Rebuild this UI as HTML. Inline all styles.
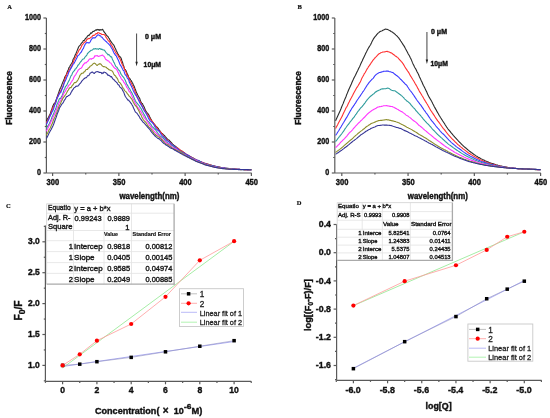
<!DOCTYPE html>
<html><head><meta charset="utf-8"><style>
html,body{margin:0;padding:0;background:#fff;}
svg{display:block;will-change:transform;font-family:"Liberation Sans", sans-serif;}
</style></head><body>
<svg width="550" height="418" viewBox="0 0 550 418">
<rect width="550" height="418" fill="#fff"/>
<text x="7.2" y="8.9" font-family="'Liberation Serif', serif" font-size="6.5" font-weight="bold" fill="#111" stroke="#111" stroke-width="0.2">A</text>
<text x="297.6" y="8.6" font-family="'Liberation Serif', serif" font-size="6.5" font-weight="bold" fill="#111" stroke="#111" stroke-width="0.2">B</text>
<text x="6.0" y="208.0" font-family="'Liberation Serif', serif" font-size="6.5" font-weight="bold" fill="#111" stroke="#111" stroke-width="0.2">C</text>
<text x="296.8" y="204.8" font-family="'Liberation Serif', serif" font-size="6.5" font-weight="bold" fill="#111" stroke="#111" stroke-width="0.2">D</text>
<line x1="46.40" y1="173.00" x2="251.69" y2="173.00" stroke="#5a5a5a" stroke-width="1.2" />
<line x1="46.40" y1="173.00" x2="46.40" y2="18.00" stroke="#5a5a5a" stroke-width="1.2" />
<line x1="43.40" y1="173.00" x2="46.40" y2="173.00" stroke="#5a5a5a" stroke-width="1.2" />
<text x="40.90" y="175.10" font-size="8.6" font-weight="bold" text-anchor="end" fill="#111" textLength="4.0" lengthAdjust="spacingAndGlyphs" stroke="#111" stroke-width="0.4">0</text>
<line x1="43.40" y1="142.00" x2="46.40" y2="142.00" stroke="#5a5a5a" stroke-width="1.2" />
<text x="40.90" y="144.10" font-size="8.6" font-weight="bold" text-anchor="end" fill="#111" textLength="12.0" lengthAdjust="spacingAndGlyphs" stroke="#111" stroke-width="0.4">200</text>
<line x1="43.40" y1="111.00" x2="46.40" y2="111.00" stroke="#5a5a5a" stroke-width="1.2" />
<text x="40.90" y="113.10" font-size="8.6" font-weight="bold" text-anchor="end" fill="#111" textLength="12.0" lengthAdjust="spacingAndGlyphs" stroke="#111" stroke-width="0.4">400</text>
<line x1="43.40" y1="80.00" x2="46.40" y2="80.00" stroke="#5a5a5a" stroke-width="1.2" />
<text x="40.90" y="82.10" font-size="8.6" font-weight="bold" text-anchor="end" fill="#111" textLength="12.0" lengthAdjust="spacingAndGlyphs" stroke="#111" stroke-width="0.4">600</text>
<line x1="43.40" y1="49.00" x2="46.40" y2="49.00" stroke="#5a5a5a" stroke-width="1.2" />
<text x="40.90" y="51.10" font-size="8.6" font-weight="bold" text-anchor="end" fill="#111" textLength="12.0" lengthAdjust="spacingAndGlyphs" stroke="#111" stroke-width="0.4">800</text>
<line x1="43.40" y1="18.00" x2="46.40" y2="18.00" stroke="#5a5a5a" stroke-width="1.2" />
<text x="40.90" y="20.10" font-size="8.6" font-weight="bold" text-anchor="end" fill="#111" textLength="16.0" lengthAdjust="spacingAndGlyphs" stroke="#111" stroke-width="0.4">1000</text>
<line x1="44.80" y1="157.50" x2="46.40" y2="157.50" stroke="#5a5a5a" stroke-width="1.2" />
<line x1="44.80" y1="126.50" x2="46.40" y2="126.50" stroke="#5a5a5a" stroke-width="1.2" />
<line x1="44.80" y1="95.50" x2="46.40" y2="95.50" stroke="#5a5a5a" stroke-width="1.2" />
<line x1="44.80" y1="64.50" x2="46.40" y2="64.50" stroke="#5a5a5a" stroke-width="1.2" />
<line x1="44.80" y1="33.50" x2="46.40" y2="33.50" stroke="#5a5a5a" stroke-width="1.2" />
<line x1="52.60" y1="173.00" x2="52.60" y2="176.00" stroke="#5a5a5a" stroke-width="1.2" />
<text x="52.90" y="185.00" font-size="8.6" font-weight="bold" text-anchor="middle" fill="#111" textLength="12.6" lengthAdjust="spacingAndGlyphs" stroke="#111" stroke-width="0.4">300</text>
<line x1="118.87" y1="173.00" x2="118.87" y2="176.00" stroke="#5a5a5a" stroke-width="1.2" />
<text x="119.17" y="185.00" font-size="8.6" font-weight="bold" text-anchor="middle" fill="#111" textLength="12.6" lengthAdjust="spacingAndGlyphs" stroke="#111" stroke-width="0.4">350</text>
<line x1="185.13" y1="173.00" x2="185.13" y2="176.00" stroke="#5a5a5a" stroke-width="1.2" />
<text x="185.43" y="185.00" font-size="8.6" font-weight="bold" text-anchor="middle" fill="#111" textLength="12.6" lengthAdjust="spacingAndGlyphs" stroke="#111" stroke-width="0.4">400</text>
<line x1="251.39" y1="173.00" x2="251.39" y2="176.00" stroke="#5a5a5a" stroke-width="1.2" />
<text x="251.69" y="185.00" font-size="8.6" font-weight="bold" text-anchor="middle" fill="#111" textLength="12.6" lengthAdjust="spacingAndGlyphs" stroke="#111" stroke-width="0.4">450</text>
<line x1="85.73" y1="173.00" x2="85.73" y2="174.60" stroke="#5a5a5a" stroke-width="1.2" />
<line x1="152.00" y1="173.00" x2="152.00" y2="174.60" stroke="#5a5a5a" stroke-width="1.2" />
<line x1="218.26" y1="173.00" x2="218.26" y2="174.60" stroke="#5a5a5a" stroke-width="1.2" />
<text x="149.40" y="198.50" font-size="8.7" font-weight="bold" text-anchor="middle" fill="#111" textLength="60" lengthAdjust="spacingAndGlyphs" stroke="#111" stroke-width="0.4">wavelength(nm)</text>
<text transform="translate(12.100000000000001,98.0) rotate(-90)" x="0" y="0" font-size="8.6" font-weight="bold" text-anchor="middle" fill="#111" stroke="#111" stroke-width="0.4" textLength="53.6" lengthAdjust="spacingAndGlyphs">Fluorescence</text>
<polyline points="46.37,121.00 47.06,119.72 47.74,118.39 48.43,117.51 49.11,115.92 49.80,114.61 50.49,113.20 51.17,110.65 51.86,108.97 52.54,106.92 53.23,105.34 53.91,103.68 54.60,103.43 55.29,102.03 55.97,100.15 56.66,98.52 57.34,96.33 58.03,94.38 58.71,92.58 59.40,90.55 60.09,88.61 60.77,87.45 61.46,85.78 62.14,83.93 62.83,82.12 63.51,80.74 64.20,78.99 64.88,76.92 65.57,75.77 66.26,74.90 66.94,72.87 67.63,70.97 68.31,69.67 69.00,67.54 69.68,66.85 70.37,65.24 71.06,64.23 71.74,63.32 72.43,61.96 73.11,59.26 73.80,58.32 74.48,56.93 75.17,54.95 75.86,53.70 76.54,52.11 77.23,50.39 77.91,48.68 78.60,47.06 79.28,45.91 79.97,45.55 80.66,44.47 81.34,43.24 82.03,42.65 82.71,41.83 83.40,40.45 84.08,40.58 84.77,39.65 85.46,38.55 86.14,38.04 86.83,37.32 87.51,36.06 88.20,35.35 88.88,35.57 89.57,34.71 90.26,33.92 90.94,32.66 91.63,33.19 92.31,32.21 93.00,31.38 93.68,31.48 94.37,31.01 95.06,30.41 95.74,29.89 96.43,30.19 97.11,29.38 97.80,29.87 98.48,29.57 99.17,30.34 99.86,29.51 100.54,29.91 101.23,29.88 101.91,29.67 102.60,29.34 103.28,30.59 103.97,31.65 104.66,32.78 105.34,33.36 106.03,34.71 106.71,35.49 107.40,36.18 108.08,36.74 108.77,37.99 109.46,38.94 110.14,40.40 110.83,41.41 111.51,42.22 112.20,43.34 112.88,44.06 113.57,44.82 114.26,45.99 114.94,47.79 115.63,49.08 116.31,50.76 117.00,51.95 117.68,53.45 118.37,54.55 119.06,56.14 119.74,56.38 120.43,57.31 121.11,58.16 121.80,60.48 122.48,62.10 123.17,64.63 123.86,66.40 124.54,69.16 125.23,69.49 125.91,70.46 126.60,72.16 127.28,74.14 127.97,75.09 128.65,76.94 129.34,78.55 130.03,78.84 130.71,80.03 131.40,80.94 132.08,82.35 132.77,83.40 133.45,85.29 134.14,86.18 134.83,88.24 135.51,89.77 136.20,92.07 136.88,93.19 137.57,94.82 138.25,95.92 138.94,97.37 139.63,98.29 140.31,100.35 141.00,102.17 141.68,103.21 142.37,103.59 143.05,105.09 143.74,106.30 144.43,107.61 145.11,109.35 145.80,111.09 146.48,111.96 147.17,112.97 147.85,113.71 148.54,114.47 149.23,115.69 149.91,117.38 150.60,118.57 151.28,119.67 151.97,120.92 152.65,122.07 153.34,122.90 154.03,123.85 154.71,124.65 155.40,125.51 156.08,126.37 156.77,126.95 157.45,127.66 158.14,128.39 158.83,129.59 159.51,130.25 160.20,131.34 160.88,132.25 161.57,133.21 162.25,133.44 162.94,134.19 163.63,134.85 164.31,135.37 165.00,136.30 165.68,137.22 166.37,137.97 167.05,138.78 167.74,139.38 168.43,139.86 169.11,140.20 169.80,140.97 170.48,141.59 171.17,142.50 171.85,143.15 172.54,144.12 173.23,144.65 173.91,145.19 174.60,145.58 175.28,146.31 175.97,146.67 176.65,147.33 177.34,147.97 178.03,148.75 178.71,149.32 179.40,149.91 180.08,150.23 180.77,150.60 181.45,150.94 182.14,151.15 182.83,151.61 183.51,152.15 184.20,152.64 184.88,153.29 185.57,153.80 186.25,154.39 186.94,154.77 187.63,155.16 188.31,155.34 189.00,155.81 189.68,156.13 190.37,156.54 191.05,156.96 191.74,157.42 192.42,157.77 193.11,158.08 193.80,158.47 194.48,158.83 195.17,159.17 195.85,159.63 196.54,159.95 197.22,160.32 197.91,160.52 198.60,160.74 199.28,161.03 199.97,161.31 200.65,161.54 201.34,161.93 202.02,162.24 202.71,162.43 203.40,162.78 204.08,163.04 204.77,163.25 205.45,163.51 206.14,163.78 206.82,163.91 207.51,164.09 208.20,164.35 208.88,164.59 209.57,164.76 210.25,165.00 210.94,165.16 211.62,165.31 212.31,165.51 213.00,165.71 213.68,165.87 214.37,166.02 215.05,166.20 215.74,166.32 216.42,166.44 217.11,166.59 217.80,166.74 218.48,166.89 219.17,167.01 219.85,167.15 220.54,167.26 221.22,167.47 221.91,167.53 222.60,167.67 223.28,167.78 223.97,167.92 224.65,168.01 225.34,168.13 226.02,168.20 226.71,168.27 227.40,168.31 228.08,168.37 228.77,168.46 229.45,168.54 230.14,168.61 230.82,168.71 231.51,168.78 232.20,168.82 232.88,168.89 233.57,168.96 234.25,169.00 234.94,169.04 235.62,169.11 236.31,169.17 237.00,169.21 237.68,169.24 238.37,169.35 239.05,169.38 239.74,169.39 240.42,169.44 241.11,169.47 241.80,169.46 242.48,169.50 243.17,169.55 243.85,169.59 244.54,169.65 245.22,169.65 245.91,169.68 246.60,169.67 247.28,169.67 247.97,169.66 248.65,169.71 249.34,169.75 250.02,169.80 250.71,169.82 251.39,169.85" fill="none" stroke="#2b2b2b" stroke-width="1.1" stroke-linejoin="round" />
<polyline points="46.37,123.11 47.06,121.64 47.74,120.39 48.43,119.42 49.11,117.87 49.80,115.84 50.49,114.57 51.17,112.64 51.86,110.21 52.54,108.43 53.23,107.41 53.91,106.07 54.60,104.76 55.29,103.35 55.97,101.66 56.66,99.48 57.34,97.55 58.03,95.78 58.71,94.60 59.40,93.15 60.09,92.14 60.77,90.88 61.46,89.51 62.14,88.09 62.83,86.68 63.51,84.37 64.20,82.25 64.88,79.47 65.57,77.18 66.26,75.49 66.94,73.90 67.63,72.20 68.31,71.92 69.00,70.35 69.68,68.91 70.37,68.76 71.06,67.15 71.74,65.69 72.43,64.14 73.11,62.70 73.80,60.67 74.48,59.05 75.17,57.88 75.86,57.02 76.54,55.01 77.23,53.31 77.91,52.65 78.60,51.05 79.28,49.67 79.97,49.32 80.66,48.06 81.34,46.77 82.03,44.97 82.71,44.39 83.40,43.48 84.08,42.53 84.77,41.99 85.46,41.86 86.14,40.91 86.83,39.43 87.51,39.20 88.20,38.42 88.88,38.77 89.57,38.53 90.26,37.85 90.94,37.34 91.63,37.08 92.31,36.18 93.00,35.28 93.68,35.40 94.37,35.27 95.06,34.53 95.74,33.80 96.43,33.57 97.11,33.74 97.80,32.66 98.48,32.74 99.17,32.91 99.86,33.46 100.54,33.49 101.23,34.02 101.91,34.56 102.60,34.50 103.28,34.55 103.97,34.50 104.66,35.08 105.34,35.63 106.03,37.36 106.71,38.22 107.40,39.23 108.08,40.32 108.77,41.03 109.46,41.51 110.14,42.77 110.83,44.43 111.51,45.12 112.20,46.40 112.88,47.57 113.57,49.10 114.26,50.05 114.94,51.26 115.63,52.42 116.31,53.78 117.00,54.12 117.68,54.89 118.37,56.37 119.06,57.60 119.74,58.29 120.43,59.96 121.11,61.55 121.80,63.54 122.48,64.67 123.17,66.39 123.86,67.27 124.54,69.65 125.23,70.54 125.91,72.14 126.60,73.75 127.28,75.72 127.97,76.17 128.65,77.64 129.34,79.59 130.03,80.94 130.71,82.16 131.40,83.40 132.08,84.97 132.77,86.17 133.45,87.45 134.14,88.84 134.83,91.04 135.51,92.91 136.20,94.26 136.88,96.07 137.57,97.97 138.25,98.90 138.94,99.61 139.63,101.30 140.31,101.98 141.00,103.63 141.68,104.75 142.37,106.62 143.05,107.90 143.74,109.15 144.43,109.95 145.11,111.50 145.80,112.35 146.48,113.02 147.17,114.34 147.85,115.36 148.54,115.99 149.23,117.14 149.91,118.44 150.60,119.60 151.28,120.35 151.97,121.38 152.65,121.93 153.34,122.82 154.03,123.71 154.71,124.73 155.40,125.96 156.08,126.97 156.77,127.71 157.45,128.70 158.14,129.75 158.83,130.54 159.51,131.20 160.20,131.68 160.88,132.38 161.57,133.15 162.25,134.30 162.94,135.32 163.63,136.48 164.31,137.36 165.00,137.93 165.68,138.51 166.37,139.25 167.05,139.90 167.74,140.57 168.43,141.20 169.11,141.46 169.80,142.25 170.48,143.07 171.17,143.42 171.85,144.12 172.54,144.99 173.23,145.42 173.91,145.81 174.60,146.45 175.28,146.89 175.97,147.24 176.65,147.53 177.34,147.89 178.03,148.32 178.71,148.80 179.40,149.21 180.08,149.82 180.77,150.56 181.45,151.02 182.14,151.58 182.83,152.01 183.51,152.52 184.20,152.81 184.88,153.29 185.57,153.59 186.25,154.14 186.94,154.59 187.63,155.02 188.31,155.48 189.00,155.99 189.68,156.39 190.37,156.73 191.05,156.99 191.74,157.36 192.42,157.74 193.11,158.11 193.80,158.43 194.48,158.98 195.17,159.33 195.85,159.66 196.54,159.94 197.22,160.30 197.91,160.57 198.60,160.88 199.28,161.15 199.97,161.40 200.65,161.66 201.34,161.91 202.02,162.12 202.71,162.46 203.40,162.81 204.08,163.09 204.77,163.33 205.45,163.59 206.14,163.84 206.82,164.01 207.51,164.16 208.20,164.40 208.88,164.60 209.57,164.75 210.25,164.97 210.94,165.28 211.62,165.40 212.31,165.62 213.00,165.76 213.68,165.96 214.37,166.09 215.05,166.31 215.74,166.43 216.42,166.64 217.11,166.80 217.80,166.94 218.48,167.12 219.17,167.24 219.85,167.33 220.54,167.45 221.22,167.52 221.91,167.62 222.60,167.76 223.28,167.84 223.97,167.92 224.65,168.09 225.34,168.24 226.02,168.35 226.71,168.45 227.40,168.56 228.08,168.59 228.77,168.59 229.45,168.66 230.14,168.74 230.82,168.79 231.51,168.84 232.20,168.90 232.88,168.95 233.57,169.00 234.25,169.08 234.94,169.11 235.62,169.12 236.31,169.17 237.00,169.26 237.68,169.30 238.37,169.35 239.05,169.42 239.74,169.42 240.42,169.43 241.11,169.47 241.80,169.48 242.48,169.55 243.17,169.57 243.85,169.59 244.54,169.58 245.22,169.62 245.91,169.60 246.60,169.63 247.28,169.66 247.97,169.69 248.65,169.72 249.34,169.74 250.02,169.75 250.71,169.74 251.39,169.76" fill="none" stroke="#ff3030" stroke-width="1.1" stroke-linejoin="round" />
<polyline points="46.37,124.45 47.06,123.15 47.74,121.58 48.43,120.29 49.11,118.39 49.80,116.66 50.49,115.14 51.17,114.16 51.86,112.35 52.54,110.92 53.23,109.93 53.91,107.95 54.60,105.46 55.29,103.80 55.97,102.22 56.66,99.23 57.34,97.53 58.03,96.70 58.71,95.15 59.40,93.72 60.09,92.98 60.77,92.59 61.46,90.40 62.14,89.00 62.83,87.29 63.51,85.70 64.20,83.01 64.88,81.82 65.57,80.34 66.26,78.70 66.94,76.69 67.63,75.63 68.31,73.61 69.00,71.81 69.68,70.76 70.37,69.32 71.06,68.11 71.74,66.87 72.43,65.79 73.11,64.12 73.80,63.77 74.48,62.48 75.17,61.19 75.86,59.71 76.54,58.63 77.23,57.15 77.91,55.53 78.60,55.23 79.28,54.56 79.97,53.54 80.66,52.62 81.34,51.99 82.03,50.53 82.71,49.23 83.40,48.33 84.08,46.57 84.77,45.13 85.46,43.86 86.14,43.05 86.83,42.41 87.51,42.79 88.20,42.60 88.88,43.13 89.57,42.74 90.26,41.75 90.94,40.18 91.63,39.26 92.31,38.41 93.00,37.66 93.68,37.85 94.37,37.83 95.06,37.94 95.74,37.14 96.43,36.25 97.11,35.54 97.80,34.95 98.48,34.84 99.17,35.30 99.86,35.83 100.54,35.71 101.23,36.93 101.91,37.24 102.60,37.97 103.28,38.91 103.97,39.68 104.66,40.05 105.34,40.88 106.03,41.53 106.71,42.05 107.40,42.86 108.08,43.46 108.77,44.06 109.46,44.95 110.14,45.44 110.83,46.75 111.51,48.07 112.20,48.99 112.88,50.42 113.57,52.20 114.26,53.40 114.94,54.42 115.63,55.42 116.31,55.75 117.00,57.61 117.68,58.95 118.37,60.29 119.06,62.00 119.74,63.91 120.43,65.17 121.11,66.18 121.80,67.47 122.48,68.87 123.17,70.38 123.86,70.55 124.54,73.11 125.23,74.73 125.91,75.37 126.60,76.21 127.28,78.13 127.97,78.92 128.65,79.71 129.34,82.27 130.03,83.51 130.71,84.93 131.40,86.27 132.08,87.81 132.77,89.23 133.45,90.93 134.14,92.35 134.83,93.48 135.51,94.97 136.20,95.50 136.88,96.70 137.57,98.19 138.25,99.54 138.94,101.10 139.63,102.42 140.31,103.66 141.00,104.62 141.68,105.73 142.37,107.10 143.05,108.30 143.74,109.73 144.43,111.01 145.11,111.74 145.80,112.95 146.48,114.33 147.17,115.58 147.85,116.80 148.54,118.61 149.23,119.46 149.91,120.60 150.60,121.20 151.28,121.72 151.97,122.30 152.65,123.05 153.34,123.91 154.03,124.94 154.71,126.37 155.40,127.70 156.08,128.69 156.77,129.22 157.45,129.92 158.14,130.70 158.83,130.88 159.51,131.78 160.20,132.98 160.88,134.05 161.57,134.88 162.25,135.94 162.94,136.25 163.63,136.90 164.31,137.57 165.00,138.20 165.68,138.87 166.37,140.09 167.05,140.68 167.74,141.05 168.43,141.55 169.11,142.04 169.80,142.59 170.48,143.43 171.17,143.93 171.85,144.41 172.54,145.24 173.23,145.60 173.91,145.94 174.60,146.56 175.28,147.20 175.97,147.60 176.65,148.11 177.34,148.60 178.03,149.16 178.71,149.86 179.40,150.59 180.08,151.16 180.77,151.79 181.45,152.20 182.14,152.40 182.83,152.54 183.51,152.94 184.20,153.22 184.88,153.57 185.57,154.11 186.25,154.47 186.94,154.80 187.63,155.19 188.31,155.57 189.00,155.96 189.68,156.35 190.37,156.84 191.05,157.29 191.74,157.83 192.42,158.10 193.11,158.58 193.80,158.86 194.48,159.22 195.17,159.42 195.85,159.66 196.54,159.92 197.22,160.15 197.91,160.37 198.60,160.62 199.28,161.02 199.97,161.41 200.65,161.71 201.34,162.02 202.02,162.45 202.71,162.75 203.40,163.01 204.08,163.34 204.77,163.62 205.45,163.75 206.14,163.93 206.82,164.16 207.51,164.44 208.20,164.63 208.88,164.97 209.57,165.20 210.25,165.34 210.94,165.50 211.62,165.68 212.31,165.79 213.00,165.91 213.68,166.04 214.37,166.18 215.05,166.30 215.74,166.49 216.42,166.67 217.11,166.89 217.80,167.01 218.48,167.20 219.17,167.33 219.85,167.46 220.54,167.55 221.22,167.71 221.91,167.81 222.60,167.89 223.28,167.98 223.97,168.11 224.65,168.17 225.34,168.26 226.02,168.32 226.71,168.39 227.40,168.48 228.08,168.60 228.77,168.67 229.45,168.74 230.14,168.81 230.82,168.84 231.51,168.86 232.20,168.95 232.88,169.01 233.57,169.07 234.25,169.12 234.94,169.18 235.62,169.20 236.31,169.27 237.00,169.29 237.68,169.35 238.37,169.38 239.05,169.42 239.74,169.42 240.42,169.47 241.11,169.50 241.80,169.54 242.48,169.57 243.17,169.59 243.85,169.65 244.54,169.67 245.22,169.66 245.91,169.64 246.60,169.69 247.28,169.66 247.97,169.65 248.65,169.66 249.34,169.70 250.02,169.68 250.71,169.70 251.39,169.73" fill="none" stroke="#3a3aff" stroke-width="1.1" stroke-linejoin="round" />
<polyline points="46.37,128.78 47.06,127.25 47.74,126.15 48.43,125.13 49.11,123.95 49.80,122.46 50.49,121.12 51.17,119.60 51.86,117.32 52.54,115.89 53.23,114.40 53.91,112.88 54.60,110.73 55.29,109.77 55.97,108.00 56.66,105.42 57.34,103.55 58.03,102.17 58.71,100.46 59.40,98.81 60.09,98.38 60.77,98.14 61.46,96.85 62.14,95.51 62.83,93.61 63.51,91.58 64.20,89.44 64.88,88.21 65.57,86.30 66.26,85.89 66.94,84.88 67.63,83.34 68.31,81.70 69.00,80.66 69.68,79.16 70.37,77.36 71.06,75.61 71.74,75.09 72.43,73.12 73.11,72.01 73.80,70.94 74.48,70.71 75.17,68.95 75.86,68.71 76.54,67.66 77.23,66.76 77.91,65.26 78.60,64.71 79.28,63.84 79.97,62.66 80.66,61.77 81.34,61.18 82.03,60.02 82.71,59.16 83.40,58.95 84.08,58.82 84.77,57.38 85.46,56.67 86.14,55.86 86.83,55.05 87.51,53.51 88.20,52.83 88.88,52.19 89.57,51.50 90.26,50.99 90.94,50.36 91.63,50.21 92.31,50.03 93.00,49.42 93.68,48.72 94.37,48.91 95.06,48.87 95.74,48.61 96.43,49.08 97.11,48.88 97.80,48.98 98.48,49.41 99.17,48.51 99.86,48.48 100.54,49.02 101.23,49.43 101.91,49.11 102.60,49.76 103.28,49.95 103.97,49.86 104.66,50.59 105.34,51.46 106.03,52.52 106.71,53.22 107.40,54.01 108.08,54.90 108.77,54.44 109.46,55.37 110.14,56.08 110.83,56.83 111.51,56.74 112.20,58.67 112.88,60.35 113.57,61.84 114.26,62.88 114.94,64.54 115.63,66.06 116.31,66.95 117.00,67.26 117.68,68.47 118.37,69.60 119.06,70.44 119.74,70.83 120.43,72.82 121.11,74.29 121.80,75.10 122.48,76.08 123.17,76.83 123.86,77.67 124.54,78.98 125.23,80.18 125.91,81.85 126.60,83.99 127.28,84.87 127.97,86.12 128.65,87.49 129.34,88.32 130.03,89.55 130.71,91.00 131.40,91.99 132.08,93.34 132.77,94.69 133.45,95.84 134.14,98.07 134.83,99.55 135.51,101.05 136.20,102.12 136.88,103.01 137.57,103.70 138.25,104.81 138.94,105.33 139.63,106.45 140.31,107.61 141.00,108.51 141.68,109.77 142.37,111.33 143.05,112.61 143.74,113.85 144.43,114.98 145.11,116.27 145.80,117.72 146.48,119.31 147.17,120.40 147.85,121.15 148.54,121.59 149.23,122.41 149.91,123.34 150.60,124.01 151.28,125.13 151.97,126.57 152.65,127.03 153.34,127.55 154.03,128.30 154.71,129.17 155.40,129.57 156.08,130.53 156.77,131.54 157.45,132.60 158.14,133.54 158.83,134.29 159.51,135.24 160.20,136.04 160.88,136.58 161.57,136.97 162.25,137.54 162.94,137.88 163.63,138.52 164.31,139.37 165.00,140.24 165.68,141.06 166.37,142.11 167.05,142.47 167.74,142.90 168.43,143.51 169.11,144.04 169.80,144.15 170.48,144.68 171.17,145.11 171.85,145.39 172.54,145.87 173.23,146.47 173.91,147.02 174.60,147.49 175.28,148.14 175.97,148.74 176.65,149.17 177.34,149.67 178.03,150.21 178.71,150.50 179.40,150.87 180.08,151.37 180.77,151.65 181.45,152.05 182.14,152.71 182.83,153.25 183.51,153.56 184.20,154.01 184.88,154.65 185.57,155.03 186.25,155.31 186.94,155.88 187.63,156.25 188.31,156.46 189.00,156.70 189.68,157.15 190.37,157.40 191.05,157.66 191.74,158.08 192.42,158.38 193.11,158.59 193.80,158.94 194.48,159.40 195.17,159.75 195.85,160.20 196.54,160.53 197.22,160.83 197.91,161.06 198.60,161.25 199.28,161.46 199.97,161.82 200.65,162.21 201.34,162.53 202.02,162.83 202.71,163.13 203.40,163.43 204.08,163.65 204.77,163.96 205.45,164.21 206.14,164.49 206.82,164.66 207.51,164.84 208.20,164.99 208.88,165.16 209.57,165.36 210.25,165.62 210.94,165.79 211.62,165.93 212.31,166.11 213.00,166.24 213.68,166.32 214.37,166.51 215.05,166.74 215.74,166.94 216.42,167.08 217.11,167.24 217.80,167.33 218.48,167.46 219.17,167.58 219.85,167.68 220.54,167.79 221.22,167.96 221.91,168.06 222.60,168.16 223.28,168.25 223.97,168.31 224.65,168.36 225.34,168.43 226.02,168.47 226.71,168.58 227.40,168.67 228.08,168.76 228.77,168.81 229.45,168.86 230.14,168.92 230.82,168.95 231.51,168.96 232.20,169.03 232.88,169.11 233.57,169.14 234.25,169.18 234.94,169.26 235.62,169.28 236.31,169.30 237.00,169.34 237.68,169.38 238.37,169.40 239.05,169.45 239.74,169.48 240.42,169.52 241.11,169.54 241.80,169.56 242.48,169.57 243.17,169.58 243.85,169.60 244.54,169.61 245.22,169.67 245.91,169.70 246.60,169.72 247.28,169.75 247.97,169.75 248.65,169.72 249.34,169.70 250.02,169.66 250.71,169.67 251.39,169.68" fill="none" stroke="#2f9c9c" stroke-width="1.1" stroke-linejoin="round" />
<polyline points="46.37,131.22 47.06,129.68 47.74,128.42 48.43,127.23 49.11,125.56 49.80,124.42 50.49,122.99 51.17,121.30 51.86,119.67 52.54,118.45 53.23,116.83 53.91,115.58 54.60,113.89 55.29,112.91 55.97,111.11 56.66,109.23 57.34,107.32 58.03,105.90 58.71,103.60 59.40,102.36 60.09,101.45 60.77,100.22 61.46,98.77 62.14,97.17 62.83,95.77 63.51,93.75 64.20,92.83 64.88,91.75 65.57,90.83 66.26,88.94 66.94,88.38 67.63,87.49 68.31,86.01 69.00,84.97 69.68,84.73 70.37,83.88 71.06,82.39 71.74,81.53 72.43,80.32 73.11,79.49 73.80,77.38 74.48,76.19 75.17,75.40 75.86,74.45 76.54,72.95 77.23,72.00 77.91,70.67 78.60,69.75 79.28,69.21 79.97,68.52 80.66,68.56 81.34,67.85 82.03,67.10 82.71,65.58 83.40,64.64 84.08,63.80 84.77,62.96 85.46,62.71 86.14,62.91 86.83,62.02 87.51,61.34 88.20,61.09 88.88,59.71 89.57,59.07 90.26,58.86 90.94,58.88 91.63,59.11 92.31,58.43 93.00,58.21 93.68,58.09 94.37,56.87 95.06,55.63 95.74,56.06 96.43,55.78 97.11,55.45 97.80,56.21 98.48,56.37 99.17,56.16 99.86,56.00 100.54,55.83 101.23,55.42 101.91,55.18 102.60,54.97 103.28,55.91 103.97,56.22 104.66,57.26 105.34,58.84 106.03,59.62 106.71,59.81 107.40,60.82 108.08,60.69 108.77,61.10 109.46,62.36 110.14,62.75 110.83,63.00 111.51,64.00 112.20,65.15 112.88,65.94 113.57,67.01 114.26,67.69 114.94,68.51 115.63,68.65 116.31,69.01 117.00,70.08 117.68,71.61 118.37,72.80 119.06,74.51 119.74,76.01 120.43,76.81 121.11,78.46 121.80,79.48 122.48,80.02 123.17,80.80 123.86,82.43 124.54,83.19 125.23,84.14 125.91,85.32 126.60,87.14 127.28,87.99 127.97,88.74 128.65,90.48 129.34,91.83 130.03,91.88 130.71,93.18 131.40,94.93 132.08,96.47 132.77,98.03 133.45,99.60 134.14,100.83 134.83,102.37 135.51,103.53 136.20,104.50 136.88,105.89 137.57,107.23 138.25,107.82 138.94,108.84 139.63,109.88 140.31,111.07 141.00,111.82 141.68,113.24 142.37,114.24 143.05,115.28 143.74,116.80 144.43,117.95 145.11,118.74 145.80,119.46 146.48,120.59 147.17,121.32 147.85,122.30 148.54,123.53 149.23,124.73 149.91,125.54 150.60,126.34 151.28,127.46 151.97,128.24 152.65,129.46 153.34,130.20 154.03,131.15 154.71,131.70 155.40,132.61 156.08,133.00 156.77,133.81 157.45,134.27 158.14,135.26 158.83,135.63 159.51,136.33 160.20,137.20 160.88,137.93 161.57,138.40 162.25,139.20 162.94,139.89 163.63,140.35 164.31,141.00 165.00,141.55 165.68,142.21 166.37,142.74 167.05,143.25 167.74,143.62 168.43,144.13 169.11,144.34 169.80,144.79 170.48,145.48 171.17,146.05 171.85,146.65 172.54,147.24 173.23,147.59 173.91,147.96 174.60,148.50 175.28,148.58 175.97,149.05 176.65,149.58 177.34,149.91 178.03,150.35 178.71,151.03 179.40,151.44 180.08,152.11 180.77,152.46 181.45,152.96 182.14,153.45 182.83,153.83 183.51,154.01 184.20,154.63 184.88,154.91 185.57,155.30 186.25,155.77 186.94,156.26 187.63,156.60 188.31,156.95 189.00,157.22 189.68,157.51 190.37,157.70 191.05,158.00 191.74,158.42 192.42,158.79 193.11,159.05 193.80,159.44 194.48,159.75 195.17,160.05 195.85,160.34 196.54,160.72 197.22,161.04 197.91,161.37 198.60,161.70 199.28,162.05 199.97,162.33 200.65,162.57 201.34,162.80 202.02,163.03 202.71,163.29 203.40,163.54 204.08,163.80 204.77,164.14 205.45,164.35 206.14,164.52 206.82,164.71 207.51,164.99 208.20,165.19 208.88,165.40 209.57,165.68 210.25,165.94 210.94,166.12 211.62,166.29 212.31,166.54 213.00,166.66 213.68,166.77 214.37,166.88 215.05,166.98 215.74,167.09 216.42,167.18 217.11,167.33 217.80,167.44 218.48,167.61 219.17,167.71 219.85,167.88 220.54,167.99 221.22,168.11 221.91,168.19 222.60,168.29 223.28,168.33 223.97,168.41 224.65,168.48 225.34,168.55 226.02,168.64 226.71,168.75 227.40,168.82 228.08,168.87 228.77,168.91 229.45,168.95 230.14,169.00 230.82,169.04 231.51,169.12 232.20,169.20 232.88,169.27 233.57,169.30 234.25,169.36 234.94,169.36 235.62,169.36 236.31,169.37 237.00,169.41 237.68,169.39 238.37,169.46 239.05,169.47 239.74,169.47 240.42,169.46 241.11,169.49 241.80,169.50 242.48,169.52 243.17,169.55 243.85,169.57 244.54,169.59 245.22,169.57 245.91,169.59 246.60,169.59 247.28,169.63 247.97,169.64 248.65,169.68 249.34,169.69 250.02,169.69 250.71,169.68 251.39,169.69" fill="none" stroke="#ff33ff" stroke-width="1.1" stroke-linejoin="round" />
<polyline points="46.37,135.21 47.06,134.01 47.74,132.84 48.43,131.22 49.11,129.54 49.80,128.88 50.49,127.48 51.17,125.71 51.86,124.28 52.54,123.04 53.23,120.52 53.91,119.02 54.60,117.64 55.29,116.19 55.97,114.43 56.66,112.99 57.34,110.87 58.03,109.19 58.71,107.21 59.40,105.82 60.09,104.58 60.77,102.86 61.46,101.35 62.14,100.04 62.83,98.60 63.51,97.30 64.20,96.67 64.88,95.45 65.57,94.79 66.26,93.60 66.94,92.32 67.63,90.94 68.31,90.08 69.00,88.88 69.68,87.73 70.37,87.51 71.06,87.66 71.74,86.33 72.43,85.30 73.11,84.79 73.80,83.49 74.48,82.47 75.17,82.69 75.86,82.22 76.54,81.93 77.23,80.91 77.91,80.00 78.60,78.60 79.28,77.22 79.97,75.25 80.66,74.85 81.34,73.46 82.03,73.14 82.71,73.25 83.40,73.03 84.08,71.74 84.77,71.61 85.46,70.40 86.14,69.52 86.83,69.47 87.51,69.41 88.20,68.13 88.88,67.83 89.57,67.20 90.26,66.02 90.94,65.80 91.63,65.50 92.31,64.59 93.00,63.89 93.68,63.44 94.37,63.10 95.06,63.51 95.74,64.12 96.43,64.85 97.11,65.48 97.80,64.92 98.48,64.19 99.17,64.16 99.86,63.63 100.54,63.89 101.23,64.48 101.91,65.51 102.60,66.08 103.28,66.60 103.97,66.45 104.66,66.82 105.34,67.04 106.03,67.25 106.71,67.77 107.40,68.51 108.08,68.83 108.77,69.64 109.46,69.83 110.14,70.25 110.83,70.29 111.51,70.71 112.20,70.96 112.88,72.04 113.57,73.65 114.26,74.90 114.94,75.61 115.63,75.97 116.31,77.50 117.00,78.04 117.68,79.09 118.37,80.89 119.06,82.37 119.74,82.47 120.43,83.39 121.11,84.30 121.80,85.52 122.48,86.97 123.17,88.35 123.86,88.94 124.54,90.57 125.23,91.18 125.91,91.68 126.60,92.50 127.28,93.64 127.97,94.43 128.65,95.33 129.34,96.42 130.03,96.80 130.71,97.98 131.40,98.46 132.08,99.75 132.77,101.17 133.45,102.52 134.14,103.71 134.83,104.86 135.51,105.79 136.20,106.33 136.88,107.24 137.57,108.76 138.25,109.76 138.94,110.94 139.63,112.47 140.31,114.20 141.00,114.86 141.68,116.65 142.37,117.96 143.05,119.26 143.74,120.15 144.43,121.08 145.11,121.61 145.80,122.32 146.48,123.22 147.17,124.59 147.85,125.60 148.54,126.61 149.23,127.48 149.91,127.92 150.60,128.45 151.28,129.39 151.97,130.67 152.65,131.41 153.34,132.45 154.03,133.30 154.71,133.93 155.40,134.42 156.08,135.31 156.77,135.66 157.45,136.09 158.14,136.67 158.83,137.03 159.51,137.49 160.20,138.39 160.88,138.77 161.57,139.52 162.25,140.11 162.94,140.80 163.63,141.44 164.31,142.63 165.00,143.40 165.68,143.80 166.37,144.08 167.05,144.59 167.74,144.77 168.43,144.94 169.11,145.73 169.80,146.16 170.48,146.69 171.17,147.22 171.85,148.04 172.54,148.20 173.23,148.81 173.91,148.95 174.60,149.40 175.28,149.49 175.97,150.06 176.65,150.45 177.34,150.82 178.03,150.91 178.71,151.21 179.40,151.66 180.08,152.00 180.77,152.47 181.45,153.01 182.14,153.47 182.83,153.79 183.51,154.32 184.20,154.79 184.88,155.08 185.57,155.58 186.25,155.97 186.94,156.21 187.63,156.69 188.31,157.18 189.00,157.58 189.68,157.98 190.37,158.47 191.05,158.78 191.74,159.14 192.42,159.38 193.11,159.68 193.80,160.07 194.48,160.25 195.17,160.55 195.85,160.91 196.54,161.24 197.22,161.41 197.91,161.84 198.60,162.14 199.28,162.39 199.97,162.62 200.65,162.95 201.34,163.15 202.02,163.39 202.71,163.63 203.40,163.86 204.08,164.08 204.77,164.38 205.45,164.62 206.14,164.84 206.82,165.10 207.51,165.31 208.20,165.40 208.88,165.61 209.57,165.79 210.25,165.99 210.94,166.14 211.62,166.39 212.31,166.59 213.00,166.80 213.68,166.93 214.37,167.10 215.05,167.28 215.74,167.41 216.42,167.50 217.11,167.61 217.80,167.78 218.48,167.87 219.17,167.94 219.85,168.07 220.54,168.20 221.22,168.28 221.91,168.39 222.60,168.49 223.28,168.55 223.97,168.65 224.65,168.71 225.34,168.73 226.02,168.79 226.71,168.84 227.40,168.88 228.08,168.92 228.77,169.00 229.45,169.02 230.14,169.09 230.82,169.14 231.51,169.22 232.20,169.25 232.88,169.32 233.57,169.36 234.25,169.39 234.94,169.39 235.62,169.39 236.31,169.41 237.00,169.40 237.68,169.44 238.37,169.49 239.05,169.54 239.74,169.54 240.42,169.61 241.11,169.63 241.80,169.60 242.48,169.57 243.17,169.57 243.85,169.58 244.54,169.56 245.22,169.58 245.91,169.62 246.60,169.68 247.28,169.67 247.97,169.70 248.65,169.75 249.34,169.72 250.02,169.68 250.71,169.68 251.39,169.66" fill="none" stroke="#8c8c2a" stroke-width="1.1" stroke-linejoin="round" />
<polyline points="46.37,138.47 47.06,137.37 47.74,136.04 48.43,134.62 49.11,133.06 49.80,131.73 50.49,130.40 51.17,129.45 51.86,128.10 52.54,126.70 53.23,125.27 53.91,123.51 54.60,121.50 55.29,119.48 55.97,117.90 56.66,115.87 57.34,113.70 58.03,111.96 58.71,110.45 59.40,108.27 60.09,106.95 60.77,106.00 61.46,104.74 62.14,103.67 62.83,103.14 63.51,101.93 64.20,100.45 64.88,99.65 65.57,98.40 66.26,97.02 66.94,96.57 67.63,96.47 68.31,95.50 69.00,95.45 69.68,94.86 70.37,94.14 71.06,92.49 71.74,91.37 72.43,90.14 73.11,89.46 73.80,88.09 74.48,87.59 75.17,87.16 75.86,86.38 76.54,86.16 77.23,86.14 77.91,86.03 78.60,85.61 79.28,84.23 79.97,83.64 80.66,82.84 81.34,81.91 82.03,80.78 82.71,80.09 83.40,79.23 84.08,78.77 84.77,78.22 85.46,77.69 86.14,77.80 86.83,77.00 87.51,75.81 88.20,75.68 88.88,75.42 89.57,74.32 90.26,73.02 90.94,72.68 91.63,72.24 92.31,72.00 93.00,72.51 93.68,73.23 94.37,73.44 95.06,72.50 95.74,71.96 96.43,71.78 97.11,71.56 97.80,71.76 98.48,71.76 99.17,72.55 99.86,72.24 100.54,72.56 101.23,72.64 101.91,73.73 102.60,72.89 103.28,73.23 103.97,72.05 104.66,72.33 105.34,72.53 106.03,73.02 106.71,73.19 107.40,74.67 108.08,75.47 108.77,75.09 109.46,75.62 110.14,76.23 110.83,76.93 111.51,76.62 112.20,77.96 112.88,78.81 113.57,79.72 114.26,79.80 114.94,80.94 115.63,81.64 116.31,82.07 117.00,82.75 117.68,84.04 118.37,84.82 119.06,85.26 119.74,86.77 120.43,87.61 121.11,87.84 121.80,88.57 122.48,90.15 123.17,91.32 123.86,92.43 124.54,94.57 125.23,96.28 125.91,97.30 126.60,98.28 127.28,99.06 127.97,100.17 128.65,100.17 129.34,101.23 130.03,101.90 130.71,103.03 131.40,103.59 132.08,104.93 132.77,106.07 133.45,107.85 134.14,109.16 134.83,110.75 135.51,112.15 136.20,112.64 136.88,113.11 137.57,114.24 138.25,115.12 138.94,116.06 139.63,117.35 140.31,118.68 141.00,119.44 141.68,120.39 142.37,121.22 143.05,122.23 143.74,122.58 144.43,123.38 145.11,124.06 145.80,125.03 146.48,125.74 147.17,126.53 147.85,127.35 148.54,128.16 149.23,128.91 149.91,129.50 150.60,130.87 151.28,131.73 151.97,132.68 152.65,133.23 153.34,134.31 154.03,134.75 154.71,135.71 155.40,136.23 156.08,136.98 156.77,137.27 157.45,138.08 158.14,138.59 158.83,138.60 159.51,139.17 160.20,139.99 160.88,140.30 161.57,141.17 162.25,142.02 162.94,142.65 163.63,143.34 164.31,143.75 165.00,143.97 165.68,144.78 166.37,145.20 167.05,145.43 167.74,146.07 168.43,146.45 169.11,146.92 169.80,147.57 170.48,147.93 171.17,148.14 171.85,148.49 172.54,148.71 173.23,149.00 173.91,149.51 174.60,150.13 175.28,150.39 175.97,150.86 176.65,151.17 177.34,151.54 178.03,151.96 178.71,152.31 179.40,152.67 180.08,153.15 180.77,153.50 181.45,153.83 182.14,154.35 182.83,154.76 183.51,155.01 184.20,155.38 184.88,155.77 185.57,156.05 186.25,156.32 186.94,156.79 187.63,157.12 188.31,157.34 189.00,157.64 189.68,158.05 190.37,158.27 191.05,158.64 191.74,158.97 192.42,159.44 193.11,159.72 193.80,160.07 194.48,160.45 195.17,160.92 195.85,161.21 196.54,161.54 197.22,161.86 197.91,162.06 198.60,162.26 199.28,162.49 199.97,162.76 200.65,163.04 201.34,163.30 202.02,163.53 202.71,163.85 203.40,164.10 204.08,164.38 204.77,164.67 205.45,164.92 206.14,165.11 206.82,165.35 207.51,165.51 208.20,165.63 208.88,165.77 209.57,165.99 210.25,166.13 210.94,166.32 211.62,166.53 212.31,166.73 213.00,166.88 213.68,167.04 214.37,167.20 215.05,167.37 215.74,167.52 216.42,167.64 217.11,167.76 217.80,167.87 218.48,167.96 219.17,168.04 219.85,168.17 220.54,168.30 221.22,168.38 221.91,168.48 222.60,168.61 223.28,168.65 223.97,168.72 224.65,168.81 225.34,168.84 226.02,168.91 226.71,168.98 227.40,169.04 228.08,169.07 228.77,169.14 229.45,169.18 230.14,169.22 230.82,169.25 231.51,169.30 232.20,169.32 232.88,169.33 233.57,169.37 234.25,169.40 234.94,169.41 235.62,169.45 236.31,169.49 237.00,169.48 237.68,169.53 238.37,169.58 239.05,169.60 239.74,169.64 240.42,169.67 241.11,169.65 241.80,169.61 242.48,169.61 243.17,169.57 243.85,169.56 244.54,169.53 245.22,169.54 245.91,169.53 246.60,169.55 247.28,169.59 247.97,169.63 248.65,169.67 249.34,169.68 250.02,169.74 250.71,169.73 251.39,169.71" fill="none" stroke="#343494" stroke-width="1.1" stroke-linejoin="round" />
<line x1="136.60" y1="33.50" x2="136.60" y2="63.20" stroke="#333" stroke-width="0.9" />
<polygon points="135.40,61.70 137.80,61.70 136.60,66.20" fill="#222"/>
<text x="145.00" y="38.60" font-size="7" font-weight="bold" text-anchor="start" fill="#111" textLength="16" lengthAdjust="spacingAndGlyphs" stroke="#111" stroke-width="0.4">0 μM</text>
<text x="143.60" y="67.40" font-size="7" font-weight="bold" text-anchor="start" fill="#111" textLength="17.4" lengthAdjust="spacingAndGlyphs" stroke="#111" stroke-width="0.4">10μM</text>
<line x1="334.80" y1="173.00" x2="540.89" y2="173.00" stroke="#5a5a5a" stroke-width="1.2" />
<line x1="334.80" y1="173.00" x2="334.80" y2="18.00" stroke="#5a5a5a" stroke-width="1.2" />
<line x1="331.80" y1="173.00" x2="334.80" y2="173.00" stroke="#5a5a5a" stroke-width="1.2" />
<text x="329.30" y="175.10" font-size="8.6" font-weight="bold" text-anchor="end" fill="#111" textLength="4.0" lengthAdjust="spacingAndGlyphs" stroke="#111" stroke-width="0.4">0</text>
<line x1="331.80" y1="142.00" x2="334.80" y2="142.00" stroke="#5a5a5a" stroke-width="1.2" />
<text x="329.30" y="144.10" font-size="8.6" font-weight="bold" text-anchor="end" fill="#111" textLength="12.0" lengthAdjust="spacingAndGlyphs" stroke="#111" stroke-width="0.4">200</text>
<line x1="331.80" y1="111.00" x2="334.80" y2="111.00" stroke="#5a5a5a" stroke-width="1.2" />
<text x="329.30" y="113.10" font-size="8.6" font-weight="bold" text-anchor="end" fill="#111" textLength="12.0" lengthAdjust="spacingAndGlyphs" stroke="#111" stroke-width="0.4">400</text>
<line x1="331.80" y1="80.00" x2="334.80" y2="80.00" stroke="#5a5a5a" stroke-width="1.2" />
<text x="329.30" y="82.10" font-size="8.6" font-weight="bold" text-anchor="end" fill="#111" textLength="12.0" lengthAdjust="spacingAndGlyphs" stroke="#111" stroke-width="0.4">600</text>
<line x1="331.80" y1="49.00" x2="334.80" y2="49.00" stroke="#5a5a5a" stroke-width="1.2" />
<text x="329.30" y="51.10" font-size="8.6" font-weight="bold" text-anchor="end" fill="#111" textLength="12.0" lengthAdjust="spacingAndGlyphs" stroke="#111" stroke-width="0.4">800</text>
<line x1="331.80" y1="18.00" x2="334.80" y2="18.00" stroke="#5a5a5a" stroke-width="1.2" />
<text x="329.30" y="20.10" font-size="8.6" font-weight="bold" text-anchor="end" fill="#111" textLength="16.0" lengthAdjust="spacingAndGlyphs" stroke="#111" stroke-width="0.4">1000</text>
<line x1="333.20" y1="157.50" x2="334.80" y2="157.50" stroke="#5a5a5a" stroke-width="1.2" />
<line x1="333.20" y1="126.50" x2="334.80" y2="126.50" stroke="#5a5a5a" stroke-width="1.2" />
<line x1="333.20" y1="95.50" x2="334.80" y2="95.50" stroke="#5a5a5a" stroke-width="1.2" />
<line x1="333.20" y1="64.50" x2="334.80" y2="64.50" stroke="#5a5a5a" stroke-width="1.2" />
<line x1="333.20" y1="33.50" x2="334.80" y2="33.50" stroke="#5a5a5a" stroke-width="1.2" />
<line x1="341.80" y1="173.00" x2="341.80" y2="176.00" stroke="#5a5a5a" stroke-width="1.2" />
<text x="342.10" y="185.00" font-size="8.6" font-weight="bold" text-anchor="middle" fill="#111" textLength="12.6" lengthAdjust="spacingAndGlyphs" stroke="#111" stroke-width="0.4">300</text>
<line x1="408.06" y1="173.00" x2="408.06" y2="176.00" stroke="#5a5a5a" stroke-width="1.2" />
<text x="408.37" y="185.00" font-size="8.6" font-weight="bold" text-anchor="middle" fill="#111" textLength="12.6" lengthAdjust="spacingAndGlyphs" stroke="#111" stroke-width="0.4">350</text>
<line x1="474.33" y1="173.00" x2="474.33" y2="176.00" stroke="#5a5a5a" stroke-width="1.2" />
<text x="474.63" y="185.00" font-size="8.6" font-weight="bold" text-anchor="middle" fill="#111" textLength="12.6" lengthAdjust="spacingAndGlyphs" stroke="#111" stroke-width="0.4">400</text>
<line x1="540.60" y1="173.00" x2="540.60" y2="176.00" stroke="#5a5a5a" stroke-width="1.2" />
<text x="540.89" y="185.00" font-size="8.6" font-weight="bold" text-anchor="middle" fill="#111" textLength="12.6" lengthAdjust="spacingAndGlyphs" stroke="#111" stroke-width="0.4">450</text>
<line x1="374.93" y1="173.00" x2="374.93" y2="174.60" stroke="#5a5a5a" stroke-width="1.2" />
<line x1="441.20" y1="173.00" x2="441.20" y2="174.60" stroke="#5a5a5a" stroke-width="1.2" />
<line x1="507.46" y1="173.00" x2="507.46" y2="174.60" stroke="#5a5a5a" stroke-width="1.2" />
<text x="437.80" y="198.50" font-size="8.7" font-weight="bold" text-anchor="middle" fill="#111" textLength="60" lengthAdjust="spacingAndGlyphs" stroke="#111" stroke-width="0.4">wavelength(nm)</text>
<text transform="translate(300.5,98.0) rotate(-90)" x="0" y="0" font-size="8.6" font-weight="bold" text-anchor="middle" fill="#111" stroke="#111" stroke-width="0.4" textLength="53.6" lengthAdjust="spacingAndGlyphs">Fluorescence</text>
<polyline points="335.57,120.80 336.26,119.28 336.94,117.81 337.63,116.28 338.31,114.85 339.00,113.32 339.69,111.72 340.37,110.21 341.06,108.54 341.74,106.73 342.43,105.11 343.11,103.64 343.80,101.77 344.49,100.15 345.17,98.49 345.86,96.95 346.54,95.07 347.23,93.35 347.91,91.73 348.60,90.00 349.29,88.42 349.97,86.95 350.66,85.52 351.34,84.03 352.03,82.33 352.71,80.73 353.40,79.31 354.08,77.79 354.77,76.44 355.46,75.23 356.14,73.74 356.83,72.28 357.51,70.95 358.20,69.49 358.88,68.07 359.57,66.78 360.26,65.11 360.94,63.57 361.63,62.05 362.31,60.77 363.00,59.06 363.68,57.67 364.37,56.25 365.06,54.79 365.74,53.21 366.43,52.07 367.11,50.62 367.80,49.28 368.48,48.10 369.17,46.86 369.86,45.79 370.54,44.66 371.23,43.38 371.91,41.86 372.60,40.44 373.28,39.16 373.97,38.14 374.66,37.12 375.34,36.28 376.03,35.67 376.71,34.68 377.40,33.91 378.08,33.16 378.77,32.59 379.46,31.97 380.14,31.58 380.83,31.20 381.51,31.01 382.20,30.69 382.88,30.32 383.57,29.98 384.26,29.63 384.94,29.31 385.63,29.15 386.31,29.31 387.00,29.35 387.68,29.47 388.37,29.87 389.06,30.26 389.74,30.50 390.43,30.98 391.11,31.50 391.80,31.87 392.48,32.18 393.17,32.72 393.86,33.18 394.54,33.81 395.23,34.47 395.91,35.10 396.60,35.71 397.28,36.42 397.97,37.22 398.66,37.91 399.34,38.86 400.03,39.82 400.71,41.04 401.40,41.94 402.08,42.99 402.77,44.11 403.46,45.19 404.14,46.13 404.83,47.37 405.51,48.75 406.20,50.00 406.88,51.25 407.57,52.60 408.26,54.02 408.94,55.04 409.63,56.31 410.31,57.73 411.00,59.09 411.68,60.65 412.37,62.39 413.06,63.90 413.74,65.16 414.43,66.75 415.11,67.99 415.80,69.09 416.48,70.45 417.17,72.00 417.85,73.12 418.54,74.53 419.23,76.21 419.91,77.67 420.60,79.08 421.28,80.78 421.97,82.06 422.65,83.68 423.34,85.27 424.03,86.48 424.71,87.85 425.40,89.36 426.08,90.70 426.77,92.06 427.45,93.85 428.14,95.22 428.83,96.59 429.51,97.66 430.20,98.89 430.88,100.01 431.57,101.34 432.25,102.58 432.94,103.98 433.63,105.22 434.31,106.66 435.00,107.88 435.68,109.12 436.37,110.33 437.05,111.63 437.74,112.83 438.43,113.99 439.11,115.20 439.80,116.32 440.48,117.48 441.17,118.55 441.85,119.59 442.54,120.77 443.23,121.80 443.91,122.79 444.60,123.79 445.28,124.97 445.97,125.98 446.65,127.06 447.34,128.04 448.03,129.02 448.71,129.77 449.40,130.57 450.08,131.41 450.77,132.36 451.45,133.09 452.14,133.96 452.83,134.77 453.51,135.61 454.20,136.31 454.88,137.13 455.57,137.88 456.25,138.63 456.94,139.36 457.63,140.01 458.31,140.85 459.00,141.59 459.68,142.29 460.37,142.98 461.05,143.76 461.74,144.42 462.43,145.00 463.11,145.75 463.80,146.35 464.48,146.94 465.17,147.46 465.85,148.05 466.54,148.60 467.23,149.22 467.91,149.80 468.60,150.43 469.28,150.99 469.97,151.51 470.65,152.01 471.34,152.54 472.03,153.00 472.71,153.53 473.40,154.00 474.08,154.51 474.77,154.91 475.45,155.38 476.14,155.87 476.83,156.28 477.51,156.69 478.20,157.14 478.88,157.48 479.57,157.82 480.25,158.25 480.94,158.63 481.62,158.97 482.31,159.38 483.00,159.70 483.68,160.00 484.37,160.33 485.05,160.66 485.74,160.96 486.42,161.29 487.11,161.60 487.80,161.86 488.48,162.13 489.17,162.43 489.85,162.69 490.54,162.94 491.22,163.20 491.91,163.45 492.60,163.64 493.28,163.87 493.97,164.09 494.65,164.30 495.34,164.53 496.02,164.77 496.71,164.96 497.40,165.15 498.08,165.35 498.77,165.50 499.45,165.66 500.14,165.84 500.82,165.99 501.51,166.15 502.20,166.31 502.88,166.46 503.57,166.58 504.25,166.71 504.94,166.84 505.62,166.97 506.31,167.09 507.00,167.24 507.68,167.36 508.37,167.45 509.05,167.56 509.74,167.67 510.42,167.75 511.11,167.82 511.80,167.93 512.48,167.99 513.17,168.07 513.85,168.14 514.54,168.23 515.22,168.29 515.91,168.37 516.60,168.43 517.28,168.51 517.97,168.56 518.65,168.62 519.34,168.67 520.02,168.73 520.71,168.79 521.40,168.86 522.08,168.90 522.77,168.95 523.45,168.99 524.14,169.02 524.82,169.06 525.51,169.10 526.20,169.15 526.88,169.19 527.57,169.24 528.25,169.27 528.94,169.29 529.62,169.31 530.31,169.35 531.00,169.37 531.68,169.41 532.37,169.45 533.05,169.50 533.74,169.52 534.42,169.55 535.11,169.58 535.80,169.59 536.48,169.61 537.17,169.64 537.85,169.67 538.54,169.69 539.22,169.72 539.91,169.74 540.60,169.76" fill="none" stroke="#2b2b2b" stroke-width="1.1" stroke-linejoin="round" />
<polyline points="335.57,128.43 336.26,127.23 336.94,125.95 337.63,124.70 338.31,123.36 339.00,122.09 339.69,120.78 340.37,119.50 341.06,118.19 341.74,116.91 342.43,115.63 343.11,113.96 343.80,112.50 344.49,111.19 345.17,109.78 345.86,108.19 346.54,107.25 347.23,105.92 347.91,104.41 348.60,103.00 349.29,101.78 349.97,100.31 350.66,98.99 351.34,97.76 352.03,96.42 352.71,95.18 353.40,93.79 354.08,92.41 354.77,91.18 355.46,89.99 356.14,88.79 356.83,87.58 357.51,86.61 358.20,85.55 358.88,84.40 359.57,83.10 360.26,81.91 360.94,80.57 361.63,78.85 362.31,77.37 363.00,76.20 363.68,74.98 364.37,73.58 365.06,72.76 365.74,71.55 366.43,70.29 367.11,68.91 367.80,67.98 368.48,66.67 369.17,65.89 369.86,64.88 370.54,63.86 371.23,62.69 371.91,61.99 372.60,60.78 373.28,59.81 373.97,59.06 374.66,58.38 375.34,57.44 376.03,56.84 376.71,56.11 377.40,55.42 378.08,54.64 378.77,54.00 379.46,53.59 380.14,53.24 380.83,52.68 381.51,52.57 382.20,52.32 382.88,52.03 383.57,51.95 384.26,52.01 384.94,51.70 385.63,51.61 386.31,51.48 387.00,51.33 387.68,51.62 388.37,51.76 389.06,51.98 389.74,52.27 390.43,52.64 391.11,52.87 391.80,53.18 392.48,53.70 393.17,54.26 393.86,54.73 394.54,55.21 395.23,55.89 395.91,56.24 396.60,56.72 397.28,57.36 397.97,57.75 398.66,58.61 399.34,59.48 400.03,60.13 400.71,60.80 401.40,61.65 402.08,62.44 402.77,63.31 403.46,64.37 404.14,65.53 404.83,66.81 405.51,67.89 406.20,68.93 406.88,69.88 407.57,71.00 408.26,71.92 408.94,72.92 409.63,74.17 410.31,75.64 411.00,76.55 411.68,77.70 412.37,78.83 413.06,79.94 413.74,80.98 414.43,82.22 415.11,83.49 415.80,84.60 416.48,85.75 417.17,86.96 417.85,88.39 418.54,89.55 419.23,90.99 419.91,92.19 420.60,93.16 421.28,94.34 421.97,95.52 422.65,96.54 423.34,97.71 424.03,99.05 424.71,100.11 425.40,101.32 426.08,102.32 426.77,103.47 427.45,104.52 428.14,105.79 428.83,106.94 429.51,108.30 430.20,109.49 430.88,110.61 431.57,111.52 432.25,112.59 432.94,113.60 433.63,114.66 434.31,115.64 435.00,116.82 435.68,117.89 436.37,118.82 437.05,119.84 437.74,120.87 438.43,121.72 439.11,122.56 439.80,123.53 440.48,124.57 441.17,125.56 441.85,126.51 442.54,127.48 443.23,128.41 443.91,129.08 444.60,129.87 445.28,130.81 445.97,131.73 446.65,132.69 447.34,133.50 448.03,134.36 448.71,135.09 449.40,135.91 450.08,136.59 450.77,137.40 451.45,138.14 452.14,138.88 452.83,139.54 453.51,140.13 454.20,140.87 454.88,141.59 455.57,142.26 456.25,142.90 456.94,143.63 457.63,144.25 458.31,144.86 459.00,145.45 459.68,146.03 460.37,146.66 461.05,147.17 461.74,147.64 462.43,148.26 463.11,148.83 463.80,149.30 464.48,149.85 465.17,150.37 465.85,150.89 466.54,151.41 467.23,151.95 467.91,152.46 468.60,153.01 469.28,153.42 469.97,153.83 470.65,154.25 471.34,154.74 472.03,155.14 472.71,155.57 473.40,156.00 474.08,156.39 474.77,156.77 475.45,157.13 476.14,157.52 476.83,157.85 477.51,158.21 478.20,158.57 478.88,158.94 479.57,159.26 480.25,159.64 480.94,159.98 481.62,160.27 482.31,160.59 483.00,160.90 483.68,161.15 484.37,161.45 485.05,161.75 485.74,161.97 486.42,162.25 487.11,162.51 487.80,162.74 488.48,162.95 489.17,163.23 489.85,163.44 490.54,163.66 491.22,163.89 491.91,164.09 492.60,164.26 493.28,164.44 493.97,164.62 494.65,164.79 495.34,164.98 496.02,165.18 496.71,165.34 497.40,165.52 498.08,165.69 498.77,165.87 499.45,166.01 500.14,166.20 500.82,166.32 501.51,166.46 502.20,166.58 502.88,166.70 503.57,166.81 504.25,166.95 504.94,167.08 505.62,167.20 506.31,167.29 507.00,167.40 507.68,167.50 508.37,167.59 509.05,167.67 509.74,167.75 510.42,167.84 511.11,167.91 511.80,167.98 512.48,168.06 513.17,168.15 513.85,168.21 514.54,168.28 515.22,168.36 515.91,168.42 516.60,168.49 517.28,168.54 517.97,168.60 518.65,168.65 519.34,168.70 520.02,168.75 520.71,168.80 521.40,168.84 522.08,168.87 522.77,168.92 523.45,168.96 524.14,169.01 524.82,169.06 525.51,169.10 526.20,169.13 526.88,169.17 527.57,169.20 528.25,169.25 528.94,169.28 529.62,169.30 530.31,169.33 531.00,169.34 531.68,169.37 532.37,169.41 533.05,169.44 533.74,169.46 534.42,169.49 535.11,169.52 535.80,169.53 536.48,169.56 537.17,169.58 537.85,169.61 538.54,169.64 539.22,169.68 539.91,169.70 540.60,169.73" fill="none" stroke="#ff3030" stroke-width="1.1" stroke-linejoin="round" />
<polyline points="335.57,135.45 336.26,134.51 336.94,133.51 337.63,132.27 338.31,131.28 339.00,130.18 339.69,128.96 340.37,127.75 341.06,126.82 341.74,125.55 342.43,124.53 343.11,123.32 343.80,122.28 344.49,120.99 345.17,119.91 345.86,118.63 346.54,117.68 347.23,116.43 347.91,115.24 348.60,114.03 349.29,112.80 349.97,111.54 350.66,110.39 351.34,109.29 352.03,108.03 352.71,107.14 353.40,106.11 354.08,105.12 354.77,104.04 355.46,103.12 356.14,101.91 356.83,100.79 357.51,99.76 358.20,98.78 358.88,97.71 359.57,96.98 360.26,95.83 360.94,94.79 361.63,93.79 362.31,92.77 363.00,91.53 363.68,90.80 364.37,89.75 365.06,88.56 365.74,87.48 366.43,86.33 367.11,85.26 367.80,84.30 368.48,83.40 369.17,82.44 369.86,81.67 370.54,80.84 371.23,80.18 371.91,79.33 372.60,78.87 373.28,78.08 373.97,77.17 374.66,75.94 375.34,75.43 376.03,74.68 376.71,74.12 377.40,73.64 378.08,73.36 378.77,72.87 379.46,72.54 380.14,72.46 380.83,72.17 381.51,72.12 382.20,71.81 382.88,71.68 383.57,71.28 384.26,71.28 384.94,71.24 385.63,71.18 386.31,71.03 387.00,71.11 387.68,71.04 388.37,71.15 389.06,71.52 389.74,71.80 390.43,71.80 391.11,72.10 391.80,72.25 392.48,72.42 393.17,72.73 393.86,73.35 394.54,73.99 395.23,74.46 395.91,75.04 396.60,75.57 397.28,75.97 397.97,76.55 398.66,77.16 399.34,77.95 400.03,78.68 400.71,79.50 401.40,79.86 402.08,80.75 402.77,81.44 403.46,82.21 404.14,82.75 404.83,83.63 405.51,84.27 406.20,84.77 406.88,85.46 407.57,86.77 408.26,87.75 408.94,88.81 409.63,89.72 410.31,90.81 411.00,91.48 411.68,92.41 412.37,93.27 413.06,94.44 413.74,95.26 414.43,96.33 415.11,97.37 415.80,98.36 416.48,99.45 417.17,100.50 417.85,101.40 418.54,102.28 419.23,103.15 419.91,104.06 420.60,104.77 421.28,105.84 421.97,106.91 422.65,107.84 423.34,108.86 424.03,110.00 424.71,110.82 425.40,111.71 426.08,112.79 426.77,113.61 427.45,114.55 428.14,115.61 428.83,116.64 429.51,117.57 430.20,118.70 430.88,119.70 431.57,120.64 432.25,121.43 432.94,122.23 433.63,123.04 434.31,123.89 435.00,124.75 435.68,125.71 436.37,126.63 437.05,127.39 437.74,128.15 438.43,128.86 439.11,129.60 439.80,130.54 440.48,131.30 441.17,132.02 441.85,132.77 442.54,133.46 443.23,134.00 443.91,134.65 444.60,135.43 445.28,136.12 445.97,136.83 446.65,137.55 447.34,138.37 448.03,139.08 448.71,139.87 449.40,140.53 450.08,141.22 450.77,141.90 451.45,142.54 452.14,143.16 452.83,143.72 453.51,144.31 454.20,144.84 454.88,145.44 455.57,146.00 456.25,146.58 456.94,147.12 457.63,147.66 458.31,148.08 459.00,148.50 459.68,149.03 460.37,149.52 461.05,150.02 461.74,150.58 462.43,151.06 463.11,151.59 463.80,152.07 464.48,152.59 465.17,153.06 465.85,153.55 466.54,153.93 467.23,154.34 467.91,154.72 468.60,155.11 469.28,155.53 469.97,155.94 470.65,156.31 471.34,156.64 472.03,156.99 472.71,157.35 473.40,157.72 474.08,158.08 474.77,158.45 475.45,158.83 476.14,159.12 476.83,159.41 477.51,159.74 478.20,160.05 478.88,160.33 479.57,160.62 480.25,160.92 480.94,161.19 481.62,161.43 482.31,161.65 483.00,161.90 483.68,162.14 484.37,162.39 485.05,162.62 485.74,162.86 486.42,163.09 487.11,163.30 487.80,163.50 488.48,163.74 489.17,163.96 489.85,164.13 490.54,164.31 491.22,164.47 491.91,164.63 492.60,164.79 493.28,164.96 493.97,165.13 494.65,165.31 495.34,165.47 496.02,165.62 496.71,165.77 497.40,165.92 498.08,166.04 498.77,166.17 499.45,166.30 500.14,166.44 500.82,166.58 501.51,166.70 502.20,166.82 502.88,166.95 503.57,167.07 504.25,167.16 504.94,167.25 505.62,167.34 506.31,167.43 507.00,167.50 507.68,167.61 508.37,167.72 509.05,167.80 509.74,167.87 510.42,167.96 511.11,168.01 511.80,168.07 512.48,168.14 513.17,168.21 513.85,168.26 514.54,168.33 515.22,168.39 515.91,168.45 516.60,168.51 517.28,168.56 517.97,168.61 518.65,168.65 519.34,168.70 520.02,168.75 520.71,168.80 521.40,168.83 522.08,168.88 522.77,168.93 523.45,168.95 524.14,169.00 524.82,169.04 525.51,169.07 526.20,169.10 526.88,169.12 527.57,169.14 528.25,169.17 528.94,169.21 529.62,169.23 530.31,169.26 531.00,169.29 531.68,169.32 532.37,169.35 533.05,169.39 533.74,169.42 534.42,169.45 535.11,169.49 535.80,169.51 536.48,169.53 537.17,169.55 537.85,169.58 538.54,169.58 539.22,169.60 539.91,169.63 540.60,169.65" fill="none" stroke="#3a3aff" stroke-width="1.1" stroke-linejoin="round" />
<polyline points="335.57,141.55 336.26,140.68 336.94,139.83 337.63,138.90 338.31,138.00 339.00,137.17 339.69,136.35 340.37,135.42 341.06,134.65 341.74,133.76 342.43,132.74 343.11,131.79 343.80,130.95 344.49,129.72 345.17,128.65 345.86,127.77 346.54,126.79 347.23,125.76 347.91,124.94 348.60,124.07 349.29,123.19 349.97,122.19 350.66,121.29 351.34,120.48 352.03,119.64 352.71,118.68 353.40,117.89 354.08,117.14 354.77,115.98 355.46,114.94 356.14,114.08 356.83,113.15 357.51,112.01 358.20,111.13 358.88,110.34 359.57,109.38 360.26,108.52 360.94,107.66 361.63,107.02 362.31,106.28 363.00,105.46 363.68,104.56 364.37,103.68 365.06,102.81 365.74,101.67 366.43,100.86 367.11,99.90 367.80,99.22 368.48,98.23 369.17,97.63 369.86,96.90 370.54,96.26 371.23,95.73 371.91,95.35 372.60,94.52 373.28,94.09 373.97,93.68 374.66,92.89 375.34,92.11 376.03,91.88 376.71,91.26 377.40,90.91 378.08,90.63 378.77,90.34 379.46,89.93 380.14,89.67 380.83,89.26 381.51,88.99 382.20,88.91 382.88,88.84 383.57,88.83 384.26,88.72 384.94,88.81 385.63,88.70 386.31,88.45 387.00,88.23 387.68,88.13 388.37,88.22 389.06,88.44 389.74,88.92 390.43,89.35 391.11,90.01 391.80,90.27 392.48,90.48 393.17,90.61 393.86,90.72 394.54,90.76 395.23,90.92 395.91,91.49 396.60,92.00 397.28,92.49 397.97,92.93 398.66,93.54 399.34,94.01 400.03,94.56 400.71,95.01 401.40,95.64 402.08,96.20 402.77,96.82 403.46,97.34 404.14,98.30 404.83,99.02 405.51,99.69 406.20,100.33 406.88,101.02 407.57,101.50 408.26,101.88 408.94,102.52 409.63,103.12 410.31,103.94 411.00,104.87 411.68,105.79 412.37,106.37 413.06,107.28 413.74,107.97 414.43,108.49 415.11,109.35 415.80,110.51 416.48,111.11 417.17,111.90 417.85,112.71 418.54,113.58 419.23,114.10 419.91,114.88 420.60,115.71 421.28,116.52 421.97,117.28 422.65,118.17 423.34,119.10 424.03,119.85 424.71,120.71 425.40,121.36 426.08,122.11 426.77,122.89 427.45,123.53 428.14,124.21 428.83,124.98 429.51,125.72 430.20,126.35 430.88,127.19 431.57,128.02 432.25,128.81 432.94,129.52 433.63,130.27 434.31,130.92 435.00,131.67 435.68,132.36 436.37,133.10 437.05,133.81 437.74,134.51 438.43,135.08 439.11,135.79 439.80,136.37 440.48,137.01 441.17,137.63 441.85,138.20 442.54,138.82 443.23,139.52 443.91,140.13 444.60,140.73 445.28,141.37 445.97,141.99 446.65,142.59 447.34,143.21 448.03,143.84 448.71,144.38 449.40,144.88 450.08,145.32 450.77,145.82 451.45,146.25 452.14,146.79 452.83,147.29 453.51,147.84 454.20,148.31 454.88,148.82 455.57,149.28 456.25,149.73 456.94,150.20 457.63,150.66 458.31,151.10 459.00,151.56 459.68,152.04 460.37,152.46 461.05,152.91 461.74,153.36 462.43,153.74 463.11,154.12 463.80,154.51 464.48,154.91 465.17,155.32 465.85,155.67 466.54,156.06 467.23,156.41 467.91,156.76 468.60,157.08 469.28,157.48 469.97,157.80 470.65,158.09 471.34,158.42 472.03,158.72 472.71,159.02 473.40,159.31 474.08,159.65 474.77,159.91 475.45,160.22 476.14,160.52 476.83,160.82 477.51,161.09 478.20,161.37 478.88,161.60 479.57,161.80 480.25,162.04 480.94,162.25 481.62,162.45 482.31,162.68 483.00,162.92 483.68,163.11 484.37,163.31 485.05,163.51 485.74,163.70 486.42,163.87 487.11,164.07 487.80,164.25 488.48,164.41 489.17,164.56 489.85,164.73 490.54,164.88 491.22,165.03 491.91,165.19 492.60,165.35 493.28,165.47 493.97,165.60 494.65,165.73 495.34,165.86 496.02,166.01 496.71,166.14 497.40,166.28 498.08,166.39 498.77,166.50 499.45,166.61 500.14,166.72 500.82,166.81 501.51,166.92 502.20,167.03 502.88,167.12 503.57,167.22 504.25,167.31 504.94,167.40 505.62,167.49 506.31,167.59 507.00,167.68 507.68,167.75 508.37,167.82 509.05,167.89 509.74,167.95 510.42,168.01 511.11,168.10 511.80,168.17 512.48,168.22 513.17,168.27 513.85,168.32 514.54,168.36 515.22,168.40 515.91,168.45 516.60,168.51 517.28,168.56 517.97,168.61 518.65,168.67 519.34,168.72 520.02,168.74 520.71,168.78 521.40,168.81 522.08,168.85 522.77,168.89 523.45,168.93 524.14,168.97 524.82,169.02 525.51,169.05 526.20,169.09 526.88,169.12 527.57,169.16 528.25,169.19 528.94,169.21 529.62,169.24 530.31,169.26 531.00,169.29 531.68,169.32 532.37,169.34 533.05,169.36 533.74,169.39 534.42,169.40 535.11,169.42 535.80,169.44 536.48,169.46 537.17,169.49 537.85,169.52 538.54,169.55 539.22,169.57 539.91,169.60 540.60,169.63" fill="none" stroke="#2f9c9c" stroke-width="1.1" stroke-linejoin="round" />
<polyline points="335.57,147.60 336.26,147.01 336.94,146.38 337.63,145.71 338.31,144.98 339.00,144.30 339.69,143.52 340.37,142.71 341.06,141.94 341.74,141.28 342.43,140.61 343.11,139.93 343.80,139.30 344.49,138.68 345.17,137.96 345.86,137.20 346.54,136.43 347.23,135.55 347.91,134.59 348.60,133.79 349.29,132.98 349.97,132.28 350.66,131.70 351.34,131.06 352.03,130.26 352.71,129.53 353.40,128.67 354.08,127.85 354.77,127.04 355.46,126.34 356.14,125.51 356.83,124.83 357.51,124.08 358.20,123.38 358.88,122.72 359.57,122.11 360.26,121.39 360.94,120.72 361.63,120.04 362.31,119.32 363.00,118.67 363.68,118.00 364.37,117.29 365.06,116.71 365.74,115.91 366.43,115.12 367.11,114.42 367.80,113.77 368.48,113.18 369.17,112.52 369.86,112.07 370.54,111.57 371.23,111.04 371.91,110.44 372.60,110.12 373.28,109.67 373.97,109.29 374.66,108.94 375.34,108.47 376.03,108.18 376.71,107.71 377.40,107.33 378.08,107.04 378.77,106.94 379.46,106.66 380.14,106.67 380.83,106.52 381.51,106.35 382.20,106.21 382.88,106.05 383.57,105.79 384.26,105.81 384.94,105.74 385.63,105.74 386.31,105.59 387.00,105.75 387.68,105.83 388.37,106.05 389.06,106.10 389.74,106.34 390.43,106.40 391.11,106.54 391.80,106.51 392.48,106.66 393.17,107.03 393.86,107.30 394.54,107.67 395.23,108.13 395.91,108.38 396.60,108.78 397.28,109.23 397.97,109.44 398.66,110.02 399.34,110.43 400.03,110.86 400.71,111.21 401.40,111.66 402.08,111.80 402.77,112.33 403.46,112.82 404.14,113.37 404.83,113.82 405.51,114.57 406.20,115.12 406.88,115.54 407.57,115.86 408.26,116.31 408.94,116.87 409.63,117.35 410.31,117.79 411.00,118.45 411.68,119.14 412.37,119.60 413.06,120.22 413.74,120.80 414.43,121.22 415.11,121.66 415.80,122.17 416.48,122.79 417.17,123.33 417.85,124.19 418.54,124.96 419.23,125.48 419.91,125.87 420.60,126.57 421.28,126.98 421.97,127.56 422.65,128.19 423.34,128.91 424.03,129.50 424.71,130.07 425.40,130.60 426.08,131.15 426.77,131.74 427.45,132.34 428.14,132.94 428.83,133.46 429.51,134.10 430.20,134.59 430.88,135.07 431.57,135.67 432.25,136.27 432.94,136.81 433.63,137.48 434.31,138.00 435.00,138.49 435.68,139.06 436.37,139.59 437.05,140.10 437.74,140.64 438.43,141.14 439.11,141.67 439.80,142.17 440.48,142.68 441.17,143.20 441.85,143.70 442.54,144.21 443.23,144.79 443.91,145.29 444.60,145.85 445.28,146.32 445.97,146.78 446.65,147.18 447.34,147.63 448.03,148.02 448.71,148.54 449.40,148.97 450.08,149.37 450.77,149.82 451.45,150.20 452.14,150.60 452.83,151.08 453.51,151.50 454.20,151.94 454.88,152.38 455.57,152.72 456.25,153.02 456.94,153.46 457.63,153.81 458.31,154.19 459.00,154.57 459.68,154.98 460.37,155.28 461.05,155.60 461.74,155.94 462.43,156.32 463.11,156.59 463.80,156.97 464.48,157.32 465.17,157.62 465.85,157.90 466.54,158.26 467.23,158.54 467.91,158.83 468.60,159.12 469.28,159.43 469.97,159.66 470.65,159.89 471.34,160.13 472.03,160.40 472.71,160.63 473.40,160.88 474.08,161.14 474.77,161.37 475.45,161.59 476.14,161.83 476.83,162.05 477.51,162.26 478.20,162.49 478.88,162.70 479.57,162.88 480.25,163.07 480.94,163.27 481.62,163.44 482.31,163.63 483.00,163.83 483.68,164.03 484.37,164.17 485.05,164.34 485.74,164.50 486.42,164.64 487.11,164.80 487.80,164.95 488.48,165.10 489.17,165.24 489.85,165.37 490.54,165.49 491.22,165.60 491.91,165.71 492.60,165.81 493.28,165.92 493.97,166.01 494.65,166.12 495.34,166.24 496.02,166.35 496.71,166.48 497.40,166.59 498.08,166.68 498.77,166.78 499.45,166.89 500.14,166.96 500.82,167.05 501.51,167.14 502.20,167.25 502.88,167.33 503.57,167.43 504.25,167.50 504.94,167.58 505.62,167.64 506.31,167.71 507.00,167.80 507.68,167.86 508.37,167.92 509.05,167.98 509.74,168.05 510.42,168.08 511.11,168.14 511.80,168.20 512.48,168.24 513.17,168.29 513.85,168.36 514.54,168.41 515.22,168.45 515.91,168.51 516.60,168.55 517.28,168.59 517.97,168.65 518.65,168.70 519.34,168.75 520.02,168.78 520.71,168.81 521.40,168.84 522.08,168.87 522.77,168.90 523.45,168.95 524.14,168.99 524.82,169.02 525.51,169.03 526.20,169.06 526.88,169.09 527.57,169.10 528.25,169.14 528.94,169.18 529.62,169.20 530.31,169.23 531.00,169.26 531.68,169.28 532.37,169.31 533.05,169.33 533.74,169.36 534.42,169.39 535.11,169.41 535.80,169.43 536.48,169.46 537.17,169.48 537.85,169.49 538.54,169.51 539.22,169.53 539.91,169.55 540.60,169.57" fill="none" stroke="#ff33ff" stroke-width="1.1" stroke-linejoin="round" />
<polyline points="335.57,152.45 336.26,151.90 336.94,151.40 337.63,150.83 338.31,150.33 339.00,149.85 339.69,149.40 340.37,148.88 341.06,148.34 341.74,147.80 342.43,147.20 343.11,146.56 343.80,145.91 344.49,145.32 345.17,144.64 345.86,144.08 346.54,143.53 347.23,142.96 347.91,142.34 348.60,141.77 349.29,141.16 349.97,140.54 350.66,140.02 351.34,139.43 352.03,138.93 352.71,138.28 353.40,137.61 354.08,136.88 354.77,136.40 355.46,135.69 356.14,135.12 356.83,134.59 357.51,133.95 358.20,133.26 358.88,132.76 359.57,132.22 360.26,131.58 360.94,131.09 361.63,130.61 362.31,130.07 363.00,129.49 363.68,129.02 364.37,128.46 365.06,127.91 365.74,127.26 366.43,126.66 367.11,126.25 367.80,125.86 368.48,125.27 369.17,124.90 369.86,124.56 370.54,123.98 371.23,123.60 371.91,123.35 372.60,123.08 373.28,122.70 373.97,122.48 374.66,122.15 375.34,122.02 376.03,121.58 376.71,121.32 377.40,121.12 378.08,120.81 378.77,120.62 379.46,120.53 380.14,120.56 380.83,120.18 381.51,120.35 382.20,120.18 382.88,120.17 383.57,119.95 384.26,120.06 384.94,119.83 385.63,119.78 386.31,119.60 387.00,119.75 387.68,119.85 388.37,119.84 389.06,120.01 389.74,120.33 390.43,120.33 391.11,120.46 391.80,120.83 392.48,120.92 393.17,120.91 393.86,121.21 394.54,121.39 395.23,121.52 395.91,121.81 396.60,122.08 397.28,122.25 397.97,122.50 398.66,122.79 399.34,123.03 400.03,123.42 400.71,123.77 401.40,124.18 402.08,124.53 402.77,124.78 403.46,125.21 404.14,125.61 404.83,125.96 405.51,126.32 406.20,126.84 406.88,127.19 407.57,127.48 408.26,127.86 408.94,128.25 409.63,128.47 410.31,128.89 411.00,129.28 411.68,129.63 412.37,130.07 413.06,130.60 413.74,130.95 414.43,131.35 415.11,131.73 415.80,132.09 416.48,132.55 417.17,133.04 417.85,133.54 418.54,134.08 419.23,134.50 419.91,134.87 420.60,135.19 421.28,135.56 421.97,135.92 422.65,136.32 423.34,136.75 424.03,137.15 424.71,137.59 425.40,137.95 426.08,138.34 426.77,138.80 427.45,139.35 428.14,139.79 428.83,140.24 429.51,140.76 430.20,141.10 430.88,141.46 431.57,141.92 432.25,142.38 432.94,142.83 433.63,143.39 434.31,143.82 435.00,144.29 435.68,144.72 436.37,145.08 437.05,145.53 437.74,145.96 438.43,146.30 439.11,146.79 439.80,147.21 440.48,147.57 441.17,148.01 441.85,148.38 442.54,148.66 443.23,149.06 443.91,149.42 444.60,149.70 445.28,150.08 445.97,150.49 446.65,150.83 447.34,151.19 448.03,151.61 448.71,151.99 449.40,152.36 450.08,152.73 450.77,153.09 451.45,153.44 452.14,153.82 452.83,154.13 453.51,154.46 454.20,154.78 454.88,155.12 455.57,155.41 456.25,155.76 456.94,156.12 457.63,156.45 458.31,156.71 459.00,157.01 459.68,157.28 460.37,157.52 461.05,157.78 461.74,158.09 462.43,158.36 463.11,158.65 463.80,158.94 464.48,159.21 465.17,159.46 465.85,159.76 466.54,160.00 467.23,160.26 467.91,160.51 468.60,160.75 469.28,160.97 469.97,161.22 470.65,161.42 471.34,161.62 472.03,161.82 472.71,162.01 473.40,162.16 474.08,162.36 474.77,162.57 475.45,162.75 476.14,162.94 476.83,163.13 477.51,163.31 478.20,163.48 478.88,163.66 479.57,163.82 480.25,163.99 480.94,164.13 481.62,164.30 482.31,164.45 483.00,164.60 483.68,164.74 484.37,164.89 485.05,165.00 485.74,165.13 486.42,165.23 487.11,165.37 487.80,165.49 488.48,165.60 489.17,165.71 489.85,165.83 490.54,165.92 491.22,166.02 491.91,166.11 492.60,166.17 493.28,166.26 493.97,166.36 494.65,166.47 495.34,166.59 496.02,166.70 496.71,166.79 497.40,166.88 498.08,166.95 498.77,167.03 499.45,167.13 500.14,167.21 500.82,167.28 501.51,167.35 502.20,167.42 502.88,167.48 503.57,167.56 504.25,167.63 504.94,167.70 505.62,167.76 506.31,167.82 507.00,167.87 507.68,167.95 508.37,168.01 509.05,168.07 509.74,168.12 510.42,168.18 511.11,168.22 511.80,168.27 512.48,168.32 513.17,168.37 513.85,168.41 514.54,168.45 515.22,168.49 515.91,168.52 516.60,168.54 517.28,168.59 517.97,168.64 518.65,168.67 519.34,168.72 520.02,168.78 520.71,168.81 521.40,168.84 522.08,168.87 522.77,168.89 523.45,168.93 524.14,168.95 524.82,168.99 525.51,169.02 526.20,169.04 526.88,169.06 527.57,169.09 528.25,169.10 528.94,169.12 529.62,169.16 530.31,169.19 531.00,169.22 531.68,169.26 532.37,169.29 533.05,169.32 533.74,169.34 534.42,169.37 535.11,169.38 535.80,169.40 536.48,169.43 537.17,169.44 537.85,169.46 538.54,169.50 539.22,169.53 539.91,169.54 540.60,169.56" fill="none" stroke="#8c8c2a" stroke-width="1.1" stroke-linejoin="round" />
<polyline points="335.57,154.26 336.26,153.85 336.94,153.41 337.63,152.95 338.31,152.50 339.00,152.05 339.69,151.55 340.37,151.03 341.06,150.60 341.74,150.17 342.43,149.62 343.11,149.10 343.80,148.59 344.49,148.02 345.17,147.45 345.86,146.98 346.54,146.45 347.23,145.96 347.91,145.42 348.60,144.86 349.29,144.27 349.97,143.70 350.66,143.06 351.34,142.53 352.03,141.98 352.71,141.41 353.40,140.87 354.08,140.49 354.77,139.89 355.46,139.33 356.14,138.85 356.83,138.33 357.51,137.71 358.20,137.13 358.88,136.55 359.57,135.99 360.26,135.38 360.94,134.78 361.63,134.36 362.31,133.94 363.00,133.51 363.68,133.04 364.37,132.62 365.06,132.04 365.74,131.50 366.43,131.01 367.11,130.69 367.80,130.29 368.48,129.82 369.17,129.50 369.86,129.16 370.54,128.74 371.23,128.30 371.91,128.11 372.60,127.82 373.28,127.51 373.97,127.23 374.66,127.05 375.34,126.74 376.03,126.29 376.71,125.96 377.40,125.72 378.08,125.55 378.77,125.50 379.46,125.49 380.14,125.37 380.83,125.25 381.51,125.18 382.20,125.01 382.88,125.01 383.57,125.07 384.26,125.12 384.94,125.11 385.63,125.17 386.31,125.12 387.00,125.16 387.68,125.21 388.37,125.23 389.06,125.27 389.74,125.37 390.43,125.53 391.11,125.58 391.80,125.78 392.48,126.05 393.17,126.29 393.86,126.50 394.54,126.83 395.23,127.06 395.91,127.14 396.60,127.43 397.28,127.57 397.97,127.76 398.66,127.89 399.34,128.19 400.03,128.34 400.71,128.54 401.40,128.87 402.08,129.26 402.77,129.64 403.46,130.01 404.14,130.37 404.83,130.62 405.51,130.89 406.20,131.14 406.88,131.45 407.57,131.80 408.26,132.16 408.94,132.57 409.63,132.96 410.31,133.27 411.00,133.57 411.68,133.93 412.37,134.24 413.06,134.63 413.74,135.03 414.43,135.40 415.11,135.75 415.80,136.06 416.48,136.33 417.17,136.61 417.85,137.00 418.54,137.37 419.23,137.76 419.91,138.07 420.60,138.48 421.28,138.80 421.97,139.14 422.65,139.53 423.34,139.87 424.03,140.22 424.71,140.65 425.40,140.97 426.08,141.33 426.77,141.78 427.45,142.13 428.14,142.58 428.83,142.95 429.51,143.25 430.20,143.60 430.88,144.07 431.57,144.29 432.25,144.59 432.94,145.02 433.63,145.44 434.31,145.77 435.00,146.20 435.68,146.65 436.37,147.00 437.05,147.31 437.74,147.73 438.43,148.10 439.11,148.48 439.80,148.82 440.48,149.22 441.17,149.55 441.85,149.91 442.54,150.25 443.23,150.71 443.91,151.01 444.60,151.33 445.28,151.64 445.97,151.97 446.65,152.25 447.34,152.58 448.03,152.87 448.71,153.24 449.40,153.59 450.08,153.90 450.77,154.26 451.45,154.63 452.14,154.93 452.83,155.26 453.51,155.61 454.20,155.99 454.88,156.27 455.57,156.53 456.25,156.79 456.94,157.05 457.63,157.26 458.31,157.56 459.00,157.87 459.68,158.15 460.37,158.43 461.05,158.70 461.74,158.95 462.43,159.21 463.11,159.45 463.80,159.68 464.48,159.93 465.17,160.14 465.85,160.37 466.54,160.65 467.23,160.92 467.91,161.15 468.60,161.39 469.28,161.60 469.97,161.79 470.65,161.97 471.34,162.17 472.03,162.36 472.71,162.56 473.40,162.73 474.08,162.91 474.77,163.08 475.45,163.24 476.14,163.40 476.83,163.57 477.51,163.74 478.20,163.89 478.88,164.06 479.57,164.22 480.25,164.36 480.94,164.46 481.62,164.58 482.31,164.71 483.00,164.83 483.68,164.95 484.37,165.09 485.05,165.21 485.74,165.34 486.42,165.43 487.11,165.56 487.80,165.68 488.48,165.80 489.17,165.91 489.85,166.04 490.54,166.11 491.22,166.19 491.91,166.28 492.60,166.36 493.28,166.42 493.97,166.52 494.65,166.62 495.34,166.69 496.02,166.76 496.71,166.85 497.40,166.92 498.08,167.02 498.77,167.13 499.45,167.22 500.14,167.31 500.82,167.39 501.51,167.45 502.20,167.51 502.88,167.57 503.57,167.64 504.25,167.70 504.94,167.76 505.62,167.81 506.31,167.87 507.00,167.94 507.68,167.98 508.37,168.04 509.05,168.10 509.74,168.15 510.42,168.19 511.11,168.25 511.80,168.29 512.48,168.34 513.17,168.39 513.85,168.43 514.54,168.47 515.22,168.51 515.91,168.54 516.60,168.58 517.28,168.63 517.97,168.67 518.65,168.70 519.34,168.74 520.02,168.76 520.71,168.79 521.40,168.81 522.08,168.84 522.77,168.86 523.45,168.91 524.14,168.94 524.82,168.97 525.51,169.01 526.20,169.04 526.88,169.06 527.57,169.09 528.25,169.11 528.94,169.14 529.62,169.17 530.31,169.20 531.00,169.22 531.68,169.26 532.37,169.28 533.05,169.31 533.74,169.32 534.42,169.35 535.11,169.36 535.80,169.40 536.48,169.41 537.17,169.43 537.85,169.44 538.54,169.46 539.22,169.48 539.91,169.50 540.60,169.52" fill="none" stroke="#343494" stroke-width="1.1" stroke-linejoin="round" />
<line x1="426.90" y1="32.00" x2="426.90" y2="61.00" stroke="#777" stroke-width="1.4" />
<polygon points="425.70,59.50 428.10,59.50 426.90,64.00" fill="#222"/>
<text x="431.00" y="34.00" font-size="7" font-weight="bold" text-anchor="start" fill="#111" textLength="16" lengthAdjust="spacingAndGlyphs" stroke="#111" stroke-width="0.4">0 μM</text>
<text x="430.50" y="65.60" font-size="7" font-weight="bold" text-anchor="start" fill="#111" textLength="17.4" lengthAdjust="spacingAndGlyphs" stroke="#111" stroke-width="0.4">10μM</text>
<line x1="45.40" y1="381.30" x2="251.20" y2="381.30" stroke="#5a5a5a" stroke-width="1.2" />
<line x1="45.40" y1="381.30" x2="45.40" y2="225.40" stroke="#5a5a5a" stroke-width="1.2" />
<line x1="42.40" y1="365.40" x2="45.40" y2="365.40" stroke="#5a5a5a" stroke-width="1.2" />
<text x="39.80" y="368.00" font-size="9.8" font-weight="bold" text-anchor="end" fill="#111" textLength="11.8" lengthAdjust="spacingAndGlyphs" stroke="#111" stroke-width="0.4">1.0</text>
<line x1="42.40" y1="334.50" x2="45.40" y2="334.50" stroke="#5a5a5a" stroke-width="1.2" />
<text x="39.80" y="337.10" font-size="9.8" font-weight="bold" text-anchor="end" fill="#111" textLength="11.8" lengthAdjust="spacingAndGlyphs" stroke="#111" stroke-width="0.4">1.5</text>
<line x1="42.40" y1="303.60" x2="45.40" y2="303.60" stroke="#5a5a5a" stroke-width="1.2" />
<text x="39.80" y="306.20" font-size="9.8" font-weight="bold" text-anchor="end" fill="#111" textLength="11.8" lengthAdjust="spacingAndGlyphs" stroke="#111" stroke-width="0.4">2.0</text>
<line x1="42.40" y1="272.70" x2="45.40" y2="272.70" stroke="#5a5a5a" stroke-width="1.2" />
<text x="39.80" y="275.30" font-size="9.8" font-weight="bold" text-anchor="end" fill="#111" textLength="11.8" lengthAdjust="spacingAndGlyphs" stroke="#111" stroke-width="0.4">2.5</text>
<line x1="42.40" y1="241.80" x2="45.40" y2="241.80" stroke="#5a5a5a" stroke-width="1.2" />
<text x="39.80" y="244.40" font-size="9.8" font-weight="bold" text-anchor="end" fill="#111" textLength="11.8" lengthAdjust="spacingAndGlyphs" stroke="#111" stroke-width="0.4">3.0</text>
<line x1="43.80" y1="380.85" x2="45.40" y2="380.85" stroke="#5a5a5a" stroke-width="1.2" />
<line x1="43.80" y1="349.95" x2="45.40" y2="349.95" stroke="#5a5a5a" stroke-width="1.2" />
<line x1="43.80" y1="319.05" x2="45.40" y2="319.05" stroke="#5a5a5a" stroke-width="1.2" />
<line x1="43.80" y1="288.15" x2="45.40" y2="288.15" stroke="#5a5a5a" stroke-width="1.2" />
<line x1="43.80" y1="257.25" x2="45.40" y2="257.25" stroke="#5a5a5a" stroke-width="1.2" />
<line x1="43.80" y1="226.35" x2="45.40" y2="226.35" stroke="#5a5a5a" stroke-width="1.2" />
<line x1="62.60" y1="381.30" x2="62.60" y2="384.30" stroke="#5a5a5a" stroke-width="1.2" />
<text x="62.60" y="393.20" font-size="9.8" font-weight="bold" text-anchor="middle" fill="#111" textLength="4.8" lengthAdjust="spacingAndGlyphs" stroke="#111" stroke-width="0.4">0</text>
<line x1="96.90" y1="381.30" x2="96.90" y2="384.30" stroke="#5a5a5a" stroke-width="1.2" />
<text x="96.90" y="393.20" font-size="9.8" font-weight="bold" text-anchor="middle" fill="#111" textLength="4.8" lengthAdjust="spacingAndGlyphs" stroke="#111" stroke-width="0.4">2</text>
<line x1="131.20" y1="381.30" x2="131.20" y2="384.30" stroke="#5a5a5a" stroke-width="1.2" />
<text x="131.20" y="393.20" font-size="9.8" font-weight="bold" text-anchor="middle" fill="#111" textLength="4.8" lengthAdjust="spacingAndGlyphs" stroke="#111" stroke-width="0.4">4</text>
<line x1="165.50" y1="381.30" x2="165.50" y2="384.30" stroke="#5a5a5a" stroke-width="1.2" />
<text x="165.50" y="393.20" font-size="9.8" font-weight="bold" text-anchor="middle" fill="#111" textLength="4.8" lengthAdjust="spacingAndGlyphs" stroke="#111" stroke-width="0.4">6</text>
<line x1="199.80" y1="381.30" x2="199.80" y2="384.30" stroke="#5a5a5a" stroke-width="1.2" />
<text x="199.80" y="393.20" font-size="9.8" font-weight="bold" text-anchor="middle" fill="#111" textLength="4.8" lengthAdjust="spacingAndGlyphs" stroke="#111" stroke-width="0.4">8</text>
<line x1="234.10" y1="381.30" x2="234.10" y2="384.30" stroke="#5a5a5a" stroke-width="1.2" />
<text x="234.10" y="393.20" font-size="9.8" font-weight="bold" text-anchor="middle" fill="#111" textLength="9.6" lengthAdjust="spacingAndGlyphs" stroke="#111" stroke-width="0.4">10</text>
<line x1="45.45" y1="381.30" x2="45.45" y2="382.90" stroke="#5a5a5a" stroke-width="1.2" />
<line x1="79.75" y1="381.30" x2="79.75" y2="382.90" stroke="#5a5a5a" stroke-width="1.2" />
<line x1="114.05" y1="381.30" x2="114.05" y2="382.90" stroke="#5a5a5a" stroke-width="1.2" />
<line x1="148.35" y1="381.30" x2="148.35" y2="382.90" stroke="#5a5a5a" stroke-width="1.2" />
<line x1="182.65" y1="381.30" x2="182.65" y2="382.90" stroke="#5a5a5a" stroke-width="1.2" />
<line x1="216.95" y1="381.30" x2="216.95" y2="382.90" stroke="#5a5a5a" stroke-width="1.2" />
<line x1="251.25" y1="381.30" x2="251.25" y2="382.90" stroke="#5a5a5a" stroke-width="1.2" />
<text x="95.00" y="413.60" font-size="9.8" font-weight="bold" text-anchor="start" fill="#111" textLength="64.4" lengthAdjust="spacingAndGlyphs" stroke="#111" stroke-width="0.4">Concentration(</text>
<text x="162.80" y="413.80" font-size="10.0" font-weight="bold" text-anchor="start" fill="#111" stroke="#111" stroke-width="0.4">×</text>
<text x="173.80" y="413.60" font-size="9.8" font-weight="bold" text-anchor="start" fill="#111" textLength="10.0" lengthAdjust="spacingAndGlyphs" stroke="#111" stroke-width="0.4">10</text>
<text x="184.00" y="409.40" font-size="7.8" font-weight="bold" text-anchor="start" fill="#111" textLength="7.4" lengthAdjust="spacingAndGlyphs" stroke="#111" stroke-width="0.4">-6</text>
<text x="191.60" y="413.60" font-size="9.8" font-weight="bold" text-anchor="start" fill="#111" textLength="10.9" lengthAdjust="spacingAndGlyphs" stroke="#111" stroke-width="0.4">M)</text>
<text transform="translate(22.1,320.6) rotate(-90)" font-size="10.3" font-weight="bold" fill="#111" stroke="#111" stroke-width="0.4">F<tspan font-size="8.6" dy="2.8">0</tspan><tspan dy="-2.8">/F</tspan></text>
<line x1="62.60" y1="366.52" x2="234.10" y2="341.50" stroke="#9a9af0" stroke-width="0.8" />
<line x1="62.60" y1="367.96" x2="234.10" y2="241.34" stroke="#8fe88f" stroke-width="0.8" />
<polyline points="62.60,365.40 79.75,364.16 96.90,361.69 131.20,357.37 165.50,351.80 199.80,346.24 234.10,340.68" fill="none" stroke="#9090c0" stroke-width="0.6" stroke-linejoin="round" />
<polyline points="62.60,365.40 79.75,354.28 96.90,340.68 131.20,323.99 165.50,296.80 199.80,260.34 234.10,241.18" fill="none" stroke="#ff9a9a" stroke-width="0.8" stroke-linejoin="round" />
<rect x="60.85" y="363.65" width="3.5" height="3.5" fill="#000"/>
<rect x="78.00" y="362.41" width="3.5" height="3.5" fill="#000"/>
<rect x="95.15" y="359.94" width="3.5" height="3.5" fill="#000"/>
<rect x="129.45" y="355.62" width="3.5" height="3.5" fill="#000"/>
<rect x="163.75" y="350.05" width="3.5" height="3.5" fill="#000"/>
<rect x="198.05" y="344.49" width="3.5" height="3.5" fill="#000"/>
<rect x="232.35" y="338.93" width="3.5" height="3.5" fill="#000"/>
<circle cx="62.60" cy="365.40" r="2.1" fill="#ff0000"/>
<circle cx="79.75" cy="354.28" r="2.1" fill="#ff0000"/>
<circle cx="96.90" cy="340.68" r="2.1" fill="#ff0000"/>
<circle cx="131.20" cy="323.99" r="2.1" fill="#ff0000"/>
<circle cx="165.50" cy="296.80" r="2.1" fill="#ff0000"/>
<circle cx="199.80" cy="260.34" r="2.1" fill="#ff0000"/>
<circle cx="234.10" cy="241.18" r="2.1" fill="#ff0000"/>
<rect x="179.50" y="288.70" width="64.00" height="37.80" fill="#fff" stroke="#c8c8c8" stroke-width="0.9"/>
<line x1="181.00" y1="293.80" x2="197.00" y2="293.80" stroke="#b0b0b0" stroke-width="0.8" />
<rect x="186.85" y="292.05" width="3.5" height="3.5" fill="#000"/>
<line x1="181.00" y1="303.30" x2="197.00" y2="303.30" stroke="#ff9a9a" stroke-width="0.8" />
<circle cx="188.60" cy="303.30" r="2.1" fill="#ff0000"/>
<line x1="181.00" y1="312.30" x2="197.00" y2="312.30" stroke="#a8a8f5" stroke-width="0.8" />
<line x1="181.00" y1="322.20" x2="197.00" y2="322.20" stroke="#9ef09e" stroke-width="0.8" />
<text x="199.80" y="297.00" font-size="8.200000000000001" font-weight="normal" text-anchor="start" fill="#222" stroke="#222" stroke-width="0.3">1</text>
<text x="199.80" y="306.50" font-size="8.200000000000001" font-weight="normal" text-anchor="start" fill="#222" stroke="#222" stroke-width="0.3">2</text>
<text x="199.80" y="315.50" font-size="8.0" font-weight="normal" text-anchor="start" fill="#222" textLength="42.2" lengthAdjust="spacingAndGlyphs" stroke="#222" stroke-width="0.3">Linear fit of 1</text>
<text x="199.80" y="325.40" font-size="8.0" font-weight="normal" text-anchor="start" fill="#222" textLength="42.2" lengthAdjust="spacingAndGlyphs" stroke="#222" stroke-width="0.3">Linear fit of 2</text>
<line x1="336.60" y1="380.30" x2="541.60" y2="380.30" stroke="#5a5a5a" stroke-width="1.2" />
<line x1="336.60" y1="380.30" x2="336.60" y2="224.30" stroke="#5a5a5a" stroke-width="1.2" />
<line x1="333.60" y1="224.50" x2="336.60" y2="224.50" stroke="#5a5a5a" stroke-width="1.2" />
<text x="331.00" y="227.20" font-size="9.8" font-weight="bold" text-anchor="end" fill="#111" textLength="12.2" lengthAdjust="spacingAndGlyphs" stroke="#111" stroke-width="0.4">0.4</text>
<line x1="333.60" y1="252.70" x2="336.60" y2="252.70" stroke="#5a5a5a" stroke-width="1.2" />
<text x="331.00" y="255.40" font-size="9.8" font-weight="bold" text-anchor="end" fill="#111" textLength="12.2" lengthAdjust="spacingAndGlyphs" stroke="#111" stroke-width="0.4">0.0</text>
<line x1="333.60" y1="280.90" x2="336.60" y2="280.90" stroke="#5a5a5a" stroke-width="1.2" />
<text x="331.00" y="283.60" font-size="9.8" font-weight="bold" text-anchor="end" fill="#111" textLength="15.2" lengthAdjust="spacingAndGlyphs" stroke="#111" stroke-width="0.4">-0.4</text>
<line x1="333.60" y1="309.10" x2="336.60" y2="309.10" stroke="#5a5a5a" stroke-width="1.2" />
<text x="331.00" y="311.80" font-size="9.8" font-weight="bold" text-anchor="end" fill="#111" textLength="15.2" lengthAdjust="spacingAndGlyphs" stroke="#111" stroke-width="0.4">-0.8</text>
<line x1="333.60" y1="337.30" x2="336.60" y2="337.30" stroke="#5a5a5a" stroke-width="1.2" />
<text x="331.00" y="340.00" font-size="9.8" font-weight="bold" text-anchor="end" fill="#111" textLength="15.2" lengthAdjust="spacingAndGlyphs" stroke="#111" stroke-width="0.4">-1.2</text>
<line x1="333.60" y1="365.50" x2="336.60" y2="365.50" stroke="#5a5a5a" stroke-width="1.2" />
<text x="331.00" y="368.20" font-size="9.8" font-weight="bold" text-anchor="end" fill="#111" textLength="15.2" lengthAdjust="spacingAndGlyphs" stroke="#111" stroke-width="0.4">-1.6</text>
<line x1="335.00" y1="238.60" x2="336.60" y2="238.60" stroke="#5a5a5a" stroke-width="1.2" />
<line x1="335.00" y1="266.80" x2="336.60" y2="266.80" stroke="#5a5a5a" stroke-width="1.2" />
<line x1="335.00" y1="295.00" x2="336.60" y2="295.00" stroke="#5a5a5a" stroke-width="1.2" />
<line x1="335.00" y1="323.20" x2="336.60" y2="323.20" stroke="#5a5a5a" stroke-width="1.2" />
<line x1="335.00" y1="351.40" x2="336.60" y2="351.40" stroke="#5a5a5a" stroke-width="1.2" />
<line x1="335.00" y1="379.60" x2="336.60" y2="379.60" stroke="#5a5a5a" stroke-width="1.2" />
<line x1="353.40" y1="380.30" x2="353.40" y2="383.30" stroke="#5a5a5a" stroke-width="1.2" />
<text x="353.10" y="393.00" font-size="9.8" font-weight="bold" text-anchor="middle" fill="#111" textLength="15.3" lengthAdjust="spacingAndGlyphs" stroke="#111" stroke-width="0.4">-6.0</text>
<line x1="387.58" y1="380.30" x2="387.58" y2="383.30" stroke="#5a5a5a" stroke-width="1.2" />
<text x="387.28" y="393.00" font-size="9.8" font-weight="bold" text-anchor="middle" fill="#111" textLength="15.3" lengthAdjust="spacingAndGlyphs" stroke="#111" stroke-width="0.4">-5.8</text>
<line x1="421.76" y1="380.30" x2="421.76" y2="383.30" stroke="#5a5a5a" stroke-width="1.2" />
<text x="421.46" y="393.00" font-size="9.8" font-weight="bold" text-anchor="middle" fill="#111" textLength="15.3" lengthAdjust="spacingAndGlyphs" stroke="#111" stroke-width="0.4">-5.6</text>
<line x1="455.94" y1="380.30" x2="455.94" y2="383.30" stroke="#5a5a5a" stroke-width="1.2" />
<text x="455.64" y="393.00" font-size="9.8" font-weight="bold" text-anchor="middle" fill="#111" textLength="15.3" lengthAdjust="spacingAndGlyphs" stroke="#111" stroke-width="0.4">-5.4</text>
<line x1="490.12" y1="380.30" x2="490.12" y2="383.30" stroke="#5a5a5a" stroke-width="1.2" />
<text x="489.82" y="393.00" font-size="9.8" font-weight="bold" text-anchor="middle" fill="#111" textLength="15.3" lengthAdjust="spacingAndGlyphs" stroke="#111" stroke-width="0.4">-5.2</text>
<line x1="524.30" y1="380.30" x2="524.30" y2="383.30" stroke="#5a5a5a" stroke-width="1.2" />
<text x="524.00" y="393.00" font-size="9.8" font-weight="bold" text-anchor="middle" fill="#111" textLength="15.3" lengthAdjust="spacingAndGlyphs" stroke="#111" stroke-width="0.4">-5.0</text>
<line x1="336.31" y1="380.30" x2="336.31" y2="381.90" stroke="#5a5a5a" stroke-width="1.2" />
<line x1="370.49" y1="380.30" x2="370.49" y2="381.90" stroke="#5a5a5a" stroke-width="1.2" />
<line x1="404.67" y1="380.30" x2="404.67" y2="381.90" stroke="#5a5a5a" stroke-width="1.2" />
<line x1="438.85" y1="380.30" x2="438.85" y2="381.90" stroke="#5a5a5a" stroke-width="1.2" />
<line x1="473.03" y1="380.30" x2="473.03" y2="381.90" stroke="#5a5a5a" stroke-width="1.2" />
<line x1="507.21" y1="380.30" x2="507.21" y2="381.90" stroke="#5a5a5a" stroke-width="1.2" />
<line x1="541.39" y1="380.30" x2="541.39" y2="381.90" stroke="#5a5a5a" stroke-width="1.2" />
<text x="425.6" y="409.2" font-size="9" font-weight="bold" fill="#111" stroke="#111" stroke-width="0.4" textLength="26" lengthAdjust="spacingAndGlyphs">log[Q]</text>
<text transform="translate(310.8,331) rotate(-90)" font-size="9.8" textLength="51.8" lengthAdjust="spacingAndGlyphs" font-weight="bold" fill="#111" stroke="#111" stroke-width="0.4">log[(F<tspan font-size="6.8" dy="2.4">0</tspan><tspan dy="-2.4">-F)/F]</tspan></text>
<line x1="353.40" y1="368.15" x2="524.30" y2="280.46" stroke="#9a9af0" stroke-width="0.8" />
<line x1="353.40" y1="305.64" x2="524.30" y2="231.75" stroke="#8fe88f" stroke-width="0.8" />
<polyline points="353.40,368.67 404.67,341.67 455.94,316.57 486.70,298.74 507.21,289.15 524.30,281.18" fill="none" stroke="#9090c0" stroke-width="0.6" stroke-linejoin="round" />
<polyline points="353.40,305.57 404.67,281.18 455.94,265.25 486.70,249.88 507.21,236.77 524.30,231.76" fill="none" stroke="#ff9a9a" stroke-width="0.8" stroke-linejoin="round" />
<rect x="351.65" y="366.92" width="3.5" height="3.5" fill="#000"/>
<rect x="402.92" y="339.92" width="3.5" height="3.5" fill="#000"/>
<rect x="454.19" y="314.82" width="3.5" height="3.5" fill="#000"/>
<rect x="484.95" y="296.99" width="3.5" height="3.5" fill="#000"/>
<rect x="505.46" y="287.40" width="3.5" height="3.5" fill="#000"/>
<rect x="522.55" y="279.43" width="3.5" height="3.5" fill="#000"/>
<circle cx="353.40" cy="305.57" r="2.1" fill="#ff0000"/>
<circle cx="404.67" cy="281.18" r="2.1" fill="#ff0000"/>
<circle cx="455.94" cy="265.25" r="2.1" fill="#ff0000"/>
<circle cx="486.70" cy="249.88" r="2.1" fill="#ff0000"/>
<circle cx="507.21" cy="236.77" r="2.1" fill="#ff0000"/>
<circle cx="524.30" cy="231.76" r="2.1" fill="#ff0000"/>
<rect x="467.90" y="324.00" width="64.90" height="37.20" fill="#fff" stroke="#c8c8c8" stroke-width="0.9"/>
<line x1="469.00" y1="329.40" x2="486.00" y2="329.40" stroke="#b0b0b0" stroke-width="0.8" />
<rect x="475.95" y="327.65" width="3.5" height="3.5" fill="#000"/>
<line x1="469.00" y1="338.70" x2="486.00" y2="338.70" stroke="#ff9a9a" stroke-width="0.8" />
<circle cx="477.70" cy="338.70" r="2.1" fill="#ff0000"/>
<line x1="469.00" y1="348.20" x2="486.00" y2="348.20" stroke="#a8a8f5" stroke-width="0.8" />
<line x1="469.00" y1="357.20" x2="486.00" y2="357.20" stroke="#9ef09e" stroke-width="0.8" />
<text x="488.20" y="332.60" font-size="8.200000000000001" font-weight="normal" text-anchor="start" fill="#222" stroke="#222" stroke-width="0.3">1</text>
<text x="488.20" y="341.90" font-size="8.200000000000001" font-weight="normal" text-anchor="start" fill="#222" stroke="#222" stroke-width="0.3">2</text>
<text x="488.20" y="351.40" font-size="8.0" font-weight="normal" text-anchor="start" fill="#222" textLength="43" lengthAdjust="spacingAndGlyphs" stroke="#222" stroke-width="0.3">Linear fit of 1</text>
<text x="488.20" y="360.40" font-size="8.0" font-weight="normal" text-anchor="start" fill="#222" textLength="43" lengthAdjust="spacingAndGlyphs" stroke="#222" stroke-width="0.3">Linear fit of 2</text>
<rect x="46.60" y="203.80" width="127.50" height="80.40" fill="#fff"/>
<line x1="73.50" y1="203.80" x2="73.50" y2="284.20" stroke="#e2e2e2" stroke-width="0.8" />
<line x1="104.00" y1="203.80" x2="104.00" y2="284.20" stroke="#e2e2e2" stroke-width="0.8" />
<line x1="131.50" y1="203.80" x2="131.50" y2="284.20" stroke="#e2e2e2" stroke-width="0.8" />
<line x1="46.60" y1="213.20" x2="174.10" y2="213.20" stroke="#e2e2e2" stroke-width="0.8" />
<line x1="46.60" y1="230.50" x2="174.10" y2="230.50" stroke="#e2e2e2" stroke-width="0.8" />
<line x1="46.60" y1="240.70" x2="174.10" y2="240.70" stroke="#e2e2e2" stroke-width="0.8" />
<line x1="46.60" y1="251.60" x2="174.10" y2="251.60" stroke="#e2e2e2" stroke-width="0.8" />
<line x1="46.60" y1="262.60" x2="174.10" y2="262.60" stroke="#e2e2e2" stroke-width="0.8" />
<line x1="46.60" y1="273.40" x2="174.10" y2="273.40" stroke="#e2e2e2" stroke-width="0.8" />
<text x="48.00" y="210.40" font-size="7.3" font-weight="normal" text-anchor="start" fill="#1a1a1a" textLength="22.6" lengthAdjust="spacingAndGlyphs" stroke="#1a1a1a" stroke-width="0.4">Equatio</text>
<text x="74.30" y="210.60" font-size="7.6" font-weight="normal" text-anchor="start" fill="#1a1a1a" textLength="36.2" lengthAdjust="spacingAndGlyphs" stroke="#1a1a1a" stroke-width="0.4">y = a + b*x</text>
<text x="48.00" y="220.40" font-size="7.6" font-weight="normal" text-anchor="start" fill="#1a1a1a" textLength="22.5" lengthAdjust="spacingAndGlyphs" stroke="#1a1a1a" stroke-width="0.4">Adj. R-</text>
<text x="48.00" y="229.00" font-size="7.6" font-weight="normal" text-anchor="start" fill="#1a1a1a" textLength="24.5" lengthAdjust="spacingAndGlyphs" stroke="#1a1a1a" stroke-width="0.4">Square</text>
<text x="74.60" y="220.60" font-size="7.6" font-weight="normal" text-anchor="start" fill="#1a1a1a" textLength="27.0" lengthAdjust="spacingAndGlyphs" stroke="#1a1a1a" stroke-width="0.4">0.99243</text>
<text x="130.00" y="220.60" font-size="7.6" font-weight="normal" text-anchor="end" fill="#1a1a1a" textLength="22.6" lengthAdjust="spacingAndGlyphs" stroke="#1a1a1a" stroke-width="0.4">0.9889</text>
<text x="129.40" y="229.60" font-size="7.6" font-weight="normal" text-anchor="end" fill="#1a1a1a" stroke="#1a1a1a" stroke-width="0.4">1</text>
<text x="104.00" y="236.20" font-size="5.5" font-weight="bold" text-anchor="start" fill="#1a1a1a" textLength="14.0" lengthAdjust="spacingAndGlyphs" stroke="#1a1a1a" stroke-width="0.2">Value</text>
<text x="132.50" y="236.20" font-size="5.5" font-weight="bold" text-anchor="start" fill="#1a1a1a" textLength="38.5" lengthAdjust="spacingAndGlyphs" stroke="#1a1a1a" stroke-width="0.2">Standard Error</text>
<text x="73.00" y="249.10" font-size="7.6" font-weight="normal" text-anchor="end" fill="#1a1a1a" stroke="#1a1a1a" stroke-width="0.4">1</text>
<text x="74.10" y="249.10" font-size="7.6" font-weight="normal" text-anchor="start" fill="#1a1a1a" textLength="28.5" lengthAdjust="spacingAndGlyphs" stroke="#1a1a1a" stroke-width="0.4">Intercep</text>
<text x="130.10" y="249.10" font-size="7.6" font-weight="normal" text-anchor="end" fill="#1a1a1a" textLength="22.9" lengthAdjust="spacingAndGlyphs" stroke="#1a1a1a" stroke-width="0.4">0.9818</text>
<text x="172.30" y="249.10" font-size="7.6" font-weight="normal" text-anchor="end" fill="#1a1a1a" textLength="26.8" lengthAdjust="spacingAndGlyphs" stroke="#1a1a1a" stroke-width="0.4">0.00812</text>
<text x="73.00" y="260.00" font-size="7.6" font-weight="normal" text-anchor="end" fill="#1a1a1a" stroke="#1a1a1a" stroke-width="0.4">1</text>
<text x="74.10" y="260.00" font-size="7.6" font-weight="normal" text-anchor="start" fill="#1a1a1a" textLength="20.5" lengthAdjust="spacingAndGlyphs" stroke="#1a1a1a" stroke-width="0.4">Slope</text>
<text x="130.10" y="260.00" font-size="7.6" font-weight="normal" text-anchor="end" fill="#1a1a1a" textLength="22.9" lengthAdjust="spacingAndGlyphs" stroke="#1a1a1a" stroke-width="0.4">0.0405</text>
<text x="172.30" y="260.00" font-size="7.6" font-weight="normal" text-anchor="end" fill="#1a1a1a" textLength="26.8" lengthAdjust="spacingAndGlyphs" stroke="#1a1a1a" stroke-width="0.4">0.00145</text>
<text x="73.00" y="271.00" font-size="7.6" font-weight="normal" text-anchor="end" fill="#1a1a1a" stroke="#1a1a1a" stroke-width="0.4">2</text>
<text x="74.10" y="271.00" font-size="7.6" font-weight="normal" text-anchor="start" fill="#1a1a1a" textLength="28.5" lengthAdjust="spacingAndGlyphs" stroke="#1a1a1a" stroke-width="0.4">Intercep</text>
<text x="130.10" y="271.00" font-size="7.6" font-weight="normal" text-anchor="end" fill="#1a1a1a" textLength="22.9" lengthAdjust="spacingAndGlyphs" stroke="#1a1a1a" stroke-width="0.4">0.9585</text>
<text x="172.30" y="271.00" font-size="7.6" font-weight="normal" text-anchor="end" fill="#1a1a1a" textLength="26.8" lengthAdjust="spacingAndGlyphs" stroke="#1a1a1a" stroke-width="0.4">0.04974</text>
<text x="73.00" y="281.80" font-size="7.6" font-weight="normal" text-anchor="end" fill="#1a1a1a" stroke="#1a1a1a" stroke-width="0.4">2</text>
<text x="74.10" y="281.80" font-size="7.6" font-weight="normal" text-anchor="start" fill="#1a1a1a" textLength="20.5" lengthAdjust="spacingAndGlyphs" stroke="#1a1a1a" stroke-width="0.4">Slope</text>
<text x="130.10" y="281.80" font-size="7.6" font-weight="normal" text-anchor="end" fill="#1a1a1a" textLength="22.9" lengthAdjust="spacingAndGlyphs" stroke="#1a1a1a" stroke-width="0.4">0.2049</text>
<text x="172.30" y="281.80" font-size="7.6" font-weight="normal" text-anchor="end" fill="#1a1a1a" textLength="26.8" lengthAdjust="spacingAndGlyphs" stroke="#1a1a1a" stroke-width="0.4">0.00885</text>
<line x1="46.60" y1="203.80" x2="174.10" y2="203.80" stroke="#d6d6d6" stroke-width="0.9" />
<line x1="46.60" y1="203.80" x2="46.60" y2="284.20" stroke="#d6d6d6" stroke-width="0.9" />
<line x1="174.10" y1="203.80" x2="174.10" y2="284.80" stroke="#aaaaaa" stroke-width="1.3" />
<line x1="46.60" y1="284.20" x2="174.70" y2="284.20" stroke="#aaaaaa" stroke-width="1.3" />
<rect x="337.20" y="202.60" width="115.20" height="57.80" fill="#fff"/>
<line x1="362.20" y1="202.60" x2="362.20" y2="260.40" stroke="#e2e2e2" stroke-width="0.8" />
<line x1="382.40" y1="202.60" x2="382.40" y2="260.40" stroke="#e2e2e2" stroke-width="0.8" />
<line x1="410.40" y1="202.60" x2="410.40" y2="260.40" stroke="#e2e2e2" stroke-width="0.8" />
<line x1="337.20" y1="211.60" x2="452.40" y2="211.60" stroke="#e2e2e2" stroke-width="0.8" />
<line x1="337.20" y1="220.20" x2="452.40" y2="220.20" stroke="#e2e2e2" stroke-width="0.8" />
<line x1="337.20" y1="229.30" x2="452.40" y2="229.30" stroke="#e2e2e2" stroke-width="0.8" />
<line x1="337.20" y1="237.20" x2="452.40" y2="237.20" stroke="#e2e2e2" stroke-width="0.8" />
<line x1="337.20" y1="245.10" x2="452.40" y2="245.10" stroke="#e2e2e2" stroke-width="0.8" />
<line x1="337.20" y1="252.90" x2="452.40" y2="252.90" stroke="#e2e2e2" stroke-width="0.8" />
<text x="338.00" y="207.80" font-size="6.0" font-weight="normal" text-anchor="start" fill="#1a1a1a" textLength="20.9" lengthAdjust="spacingAndGlyphs" stroke="#1a1a1a" stroke-width="0.4">Equatio</text>
<text x="362.80" y="207.80" font-size="6.0" font-weight="normal" text-anchor="start" fill="#1a1a1a" textLength="28.3" lengthAdjust="spacingAndGlyphs" stroke="#1a1a1a" stroke-width="0.4">y = a + b*x</text>
<text x="338.00" y="217.20" font-size="6.0" font-weight="normal" text-anchor="start" fill="#1a1a1a" textLength="22.6" lengthAdjust="spacingAndGlyphs" stroke="#1a1a1a" stroke-width="0.4">Adj. R-S</text>
<text x="364.00" y="217.20" font-size="6.0" font-weight="normal" text-anchor="start" fill="#1a1a1a" textLength="17.4" lengthAdjust="spacingAndGlyphs" stroke="#1a1a1a" stroke-width="0.4">0.9993</text>
<text x="409.40" y="217.20" font-size="6.0" font-weight="normal" text-anchor="end" fill="#1a1a1a" textLength="17.4" lengthAdjust="spacingAndGlyphs" stroke="#1a1a1a" stroke-width="0.4">0.9908</text>
<text x="383.00" y="226.00" font-size="6.0" font-weight="normal" text-anchor="start" fill="#1a1a1a" textLength="15.6" lengthAdjust="spacingAndGlyphs" stroke="#1a1a1a" stroke-width="0.4">Value</text>
<text x="411.00" y="226.00" font-size="6.0" font-weight="normal" text-anchor="start" fill="#1a1a1a" textLength="40.6" lengthAdjust="spacingAndGlyphs" stroke="#1a1a1a" stroke-width="0.4">Standard Error</text>
<text x="361.80" y="234.90" font-size="6.2" font-weight="normal" text-anchor="end" fill="#1a1a1a" stroke="#1a1a1a" stroke-width="0.4">1</text>
<text x="362.80" y="234.90" font-size="6.2" font-weight="normal" text-anchor="start" fill="#1a1a1a" textLength="18.6" lengthAdjust="spacingAndGlyphs" stroke="#1a1a1a" stroke-width="0.4">Interce</text>
<text x="409.40" y="234.90" font-size="6.2" font-weight="normal" text-anchor="end" fill="#1a1a1a" textLength="21.0" lengthAdjust="spacingAndGlyphs" stroke="#1a1a1a" stroke-width="0.4">5.82541</text>
<text x="450.60" y="234.90" font-size="6.2" font-weight="normal" text-anchor="end" fill="#1a1a1a" textLength="17.8" lengthAdjust="spacingAndGlyphs" stroke="#1a1a1a" stroke-width="0.4">0.0764</text>
<text x="361.80" y="242.80" font-size="6.2" font-weight="normal" text-anchor="end" fill="#1a1a1a" stroke="#1a1a1a" stroke-width="0.4">1</text>
<text x="362.80" y="242.80" font-size="6.2" font-weight="normal" text-anchor="start" fill="#1a1a1a" textLength="14.6" lengthAdjust="spacingAndGlyphs" stroke="#1a1a1a" stroke-width="0.4">Slope</text>
<text x="409.40" y="242.80" font-size="6.2" font-weight="normal" text-anchor="end" fill="#1a1a1a" textLength="21.0" lengthAdjust="spacingAndGlyphs" stroke="#1a1a1a" stroke-width="0.4">1.24383</text>
<text x="450.60" y="242.80" font-size="6.2" font-weight="normal" text-anchor="end" fill="#1a1a1a" textLength="21.0" lengthAdjust="spacingAndGlyphs" stroke="#1a1a1a" stroke-width="0.4">0.01411</text>
<text x="361.80" y="250.70" font-size="6.2" font-weight="normal" text-anchor="end" fill="#1a1a1a" stroke="#1a1a1a" stroke-width="0.4">2</text>
<text x="362.80" y="250.70" font-size="6.2" font-weight="normal" text-anchor="start" fill="#1a1a1a" textLength="18.6" lengthAdjust="spacingAndGlyphs" stroke="#1a1a1a" stroke-width="0.4">Interce</text>
<text x="409.40" y="250.70" font-size="6.2" font-weight="normal" text-anchor="end" fill="#1a1a1a" textLength="17.8" lengthAdjust="spacingAndGlyphs" stroke="#1a1a1a" stroke-width="0.4">5.5375</text>
<text x="450.60" y="250.70" font-size="6.2" font-weight="normal" text-anchor="end" fill="#1a1a1a" textLength="21.0" lengthAdjust="spacingAndGlyphs" stroke="#1a1a1a" stroke-width="0.4">0.24435</text>
<text x="361.80" y="258.50" font-size="6.2" font-weight="normal" text-anchor="end" fill="#1a1a1a" stroke="#1a1a1a" stroke-width="0.4">2</text>
<text x="362.80" y="258.50" font-size="6.2" font-weight="normal" text-anchor="start" fill="#1a1a1a" textLength="14.6" lengthAdjust="spacingAndGlyphs" stroke="#1a1a1a" stroke-width="0.4">Slope</text>
<text x="409.40" y="258.50" font-size="6.2" font-weight="normal" text-anchor="end" fill="#1a1a1a" textLength="21.0" lengthAdjust="spacingAndGlyphs" stroke="#1a1a1a" stroke-width="0.4">1.04807</text>
<text x="450.60" y="258.50" font-size="6.2" font-weight="normal" text-anchor="end" fill="#1a1a1a" textLength="21.0" lengthAdjust="spacingAndGlyphs" stroke="#1a1a1a" stroke-width="0.4">0.04513</text>
<line x1="337.20" y1="202.60" x2="452.40" y2="202.60" stroke="#d6d6d6" stroke-width="0.9" />
<line x1="337.20" y1="202.60" x2="337.20" y2="260.40" stroke="#d6d6d6" stroke-width="0.9" />
<line x1="452.40" y1="202.60" x2="452.40" y2="261.00" stroke="#aaaaaa" stroke-width="1.3" />
<line x1="337.20" y1="260.40" x2="453.00" y2="260.40" stroke="#aaaaaa" stroke-width="1.3" />
</svg></body></html>
